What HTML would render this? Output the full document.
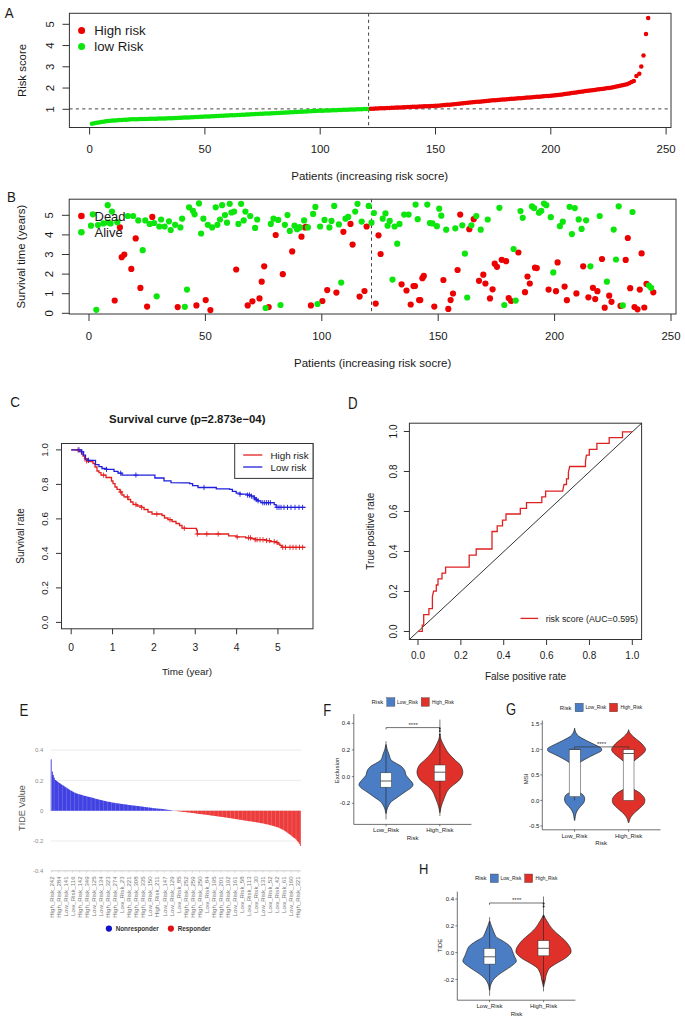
<!DOCTYPE html>
<html><head><meta charset="utf-8"><style>
html,body{margin:0;padding:0;background:#fff;}
svg{display:block;font-family:"Liberation Sans", sans-serif;}
</style></head><body>
<svg width="685" height="1019" viewBox="0 0 685 1019">
<rect width="685" height="1019" fill="#fff"/>
<text transform="translate(4.80,17.79) scale(1,1.12)" font-size="13.3" fill="#1a1a1a">A</text>
<rect x="69.4" y="13.3" width="601.6" height="114.2" fill="none" stroke="#333333" stroke-width="1"/>
<line x1="62.50" y1="109.30" x2="69.40" y2="109.30" stroke="#333333" stroke-width="1" />
<text transform="translate(53.60,109.30) rotate(-90)" font-size="11.4" text-anchor="middle" font-weight="normal" fill="#1a1a1a" >1</text>
<line x1="62.50" y1="88.05" x2="69.40" y2="88.05" stroke="#333333" stroke-width="1" />
<text transform="translate(53.60,88.05) rotate(-90)" font-size="11.4" text-anchor="middle" font-weight="normal" fill="#1a1a1a" >2</text>
<line x1="62.50" y1="66.80" x2="69.40" y2="66.80" stroke="#333333" stroke-width="1" />
<text transform="translate(53.60,66.80) rotate(-90)" font-size="11.4" text-anchor="middle" font-weight="normal" fill="#1a1a1a" >3</text>
<line x1="62.50" y1="45.55" x2="69.40" y2="45.55" stroke="#333333" stroke-width="1" />
<text transform="translate(53.60,45.55) rotate(-90)" font-size="11.4" text-anchor="middle" font-weight="normal" fill="#1a1a1a" >4</text>
<line x1="62.50" y1="24.30" x2="69.40" y2="24.30" stroke="#333333" stroke-width="1" />
<text transform="translate(53.60,24.30) rotate(-90)" font-size="11.4" text-anchor="middle" font-weight="normal" fill="#1a1a1a" >5</text>
<line x1="89.60" y1="127.50" x2="89.60" y2="134.50" stroke="#333333" stroke-width="1" />
<text x="89.60" y="153.10" font-size="11.4" text-anchor="middle" font-weight="normal" fill="#1a1a1a" >0</text>
<line x1="204.90" y1="127.50" x2="204.90" y2="134.50" stroke="#333333" stroke-width="1" />
<text x="204.90" y="153.10" font-size="11.4" text-anchor="middle" font-weight="normal" fill="#1a1a1a" >50</text>
<line x1="320.20" y1="127.50" x2="320.20" y2="134.50" stroke="#333333" stroke-width="1" />
<text x="320.20" y="153.10" font-size="11.4" text-anchor="middle" font-weight="normal" fill="#1a1a1a" >100</text>
<line x1="435.50" y1="127.50" x2="435.50" y2="134.50" stroke="#333333" stroke-width="1" />
<text x="435.50" y="153.10" font-size="11.4" text-anchor="middle" font-weight="normal" fill="#1a1a1a" >150</text>
<line x1="550.80" y1="127.50" x2="550.80" y2="134.50" stroke="#333333" stroke-width="1" />
<text x="550.80" y="153.10" font-size="11.4" text-anchor="middle" font-weight="normal" fill="#1a1a1a" >200</text>
<line x1="666.10" y1="127.50" x2="666.10" y2="134.50" stroke="#333333" stroke-width="1" />
<text x="666.10" y="153.10" font-size="11.4" text-anchor="middle" font-weight="normal" fill="#1a1a1a" >250</text>
<text x="369.70" y="179.73" font-size="11.47" text-anchor="middle" font-weight="normal" fill="#1a1a1a" >Patients (increasing risk socre)</text>
<text transform="translate(25.70,70.50) rotate(-90)" font-size="11.4" text-anchor="middle" font-weight="normal" fill="#1a1a1a" >Risk score</text>
<line x1="69.40" y1="108.90" x2="671.00" y2="108.90" stroke="#444" stroke-width="1" stroke-dasharray="3.2,3.2"/>
<line x1="368.60" y1="13.30" x2="368.60" y2="127.50" stroke="#444" stroke-width="1" stroke-dasharray="3.2,3.2"/>
<circle cx="91.91" cy="123.64" r="2.25" fill="#0ce60c"/><circle cx="94.21" cy="123.23" r="2.25" fill="#0ce60c"/><circle cx="96.52" cy="122.82" r="2.25" fill="#0ce60c"/><circle cx="98.82" cy="122.41" r="2.25" fill="#0ce60c"/><circle cx="101.13" cy="122.02" r="2.25" fill="#0ce60c"/><circle cx="103.44" cy="121.67" r="2.25" fill="#0ce60c"/><circle cx="105.74" cy="121.31" r="2.25" fill="#0ce60c"/><circle cx="108.05" cy="120.95" r="2.25" fill="#0ce60c"/><circle cx="110.35" cy="120.71" r="2.25" fill="#0ce60c"/><circle cx="112.66" cy="120.56" r="2.25" fill="#0ce60c"/><circle cx="114.97" cy="120.40" r="2.25" fill="#0ce60c"/><circle cx="117.27" cy="120.25" r="2.25" fill="#0ce60c"/><circle cx="119.58" cy="120.09" r="2.25" fill="#0ce60c"/><circle cx="121.88" cy="119.94" r="2.25" fill="#0ce60c"/><circle cx="124.19" cy="119.79" r="2.25" fill="#0ce60c"/><circle cx="126.50" cy="119.63" r="2.25" fill="#0ce60c"/><circle cx="128.80" cy="119.48" r="2.25" fill="#0ce60c"/><circle cx="131.11" cy="119.37" r="2.25" fill="#0ce60c"/><circle cx="133.41" cy="119.31" r="2.25" fill="#0ce60c"/><circle cx="135.72" cy="119.24" r="2.25" fill="#0ce60c"/><circle cx="138.03" cy="119.18" r="2.25" fill="#0ce60c"/><circle cx="140.33" cy="119.12" r="2.25" fill="#0ce60c"/><circle cx="142.64" cy="119.05" r="2.25" fill="#0ce60c"/><circle cx="144.94" cy="118.99" r="2.25" fill="#0ce60c"/><circle cx="147.25" cy="118.93" r="2.25" fill="#0ce60c"/><circle cx="149.56" cy="118.86" r="2.25" fill="#0ce60c"/><circle cx="151.86" cy="118.80" r="2.25" fill="#0ce60c"/><circle cx="154.17" cy="118.74" r="2.25" fill="#0ce60c"/><circle cx="156.47" cy="118.67" r="2.25" fill="#0ce60c"/><circle cx="158.78" cy="118.61" r="2.25" fill="#0ce60c"/><circle cx="161.09" cy="118.55" r="2.25" fill="#0ce60c"/><circle cx="163.39" cy="118.48" r="2.25" fill="#0ce60c"/><circle cx="165.70" cy="118.42" r="2.25" fill="#0ce60c"/><circle cx="168.00" cy="118.35" r="2.25" fill="#0ce60c"/><circle cx="170.31" cy="118.28" r="2.25" fill="#0ce60c"/><circle cx="172.62" cy="118.17" r="2.25" fill="#0ce60c"/><circle cx="174.92" cy="118.06" r="2.25" fill="#0ce60c"/><circle cx="177.23" cy="117.95" r="2.25" fill="#0ce60c"/><circle cx="179.53" cy="117.84" r="2.25" fill="#0ce60c"/><circle cx="181.84" cy="117.72" r="2.25" fill="#0ce60c"/><circle cx="184.15" cy="117.61" r="2.25" fill="#0ce60c"/><circle cx="186.45" cy="117.50" r="2.25" fill="#0ce60c"/><circle cx="188.76" cy="117.39" r="2.25" fill="#0ce60c"/><circle cx="191.06" cy="117.28" r="2.25" fill="#0ce60c"/><circle cx="193.37" cy="117.16" r="2.25" fill="#0ce60c"/><circle cx="195.68" cy="117.05" r="2.25" fill="#0ce60c"/><circle cx="197.98" cy="116.94" r="2.25" fill="#0ce60c"/><circle cx="200.29" cy="116.83" r="2.25" fill="#0ce60c"/><circle cx="202.59" cy="116.71" r="2.25" fill="#0ce60c"/><circle cx="204.90" cy="116.60" r="2.25" fill="#0ce60c"/><circle cx="207.21" cy="116.49" r="2.25" fill="#0ce60c"/><circle cx="209.51" cy="116.38" r="2.25" fill="#0ce60c"/><circle cx="211.82" cy="116.27" r="2.25" fill="#0ce60c"/><circle cx="214.12" cy="116.15" r="2.25" fill="#0ce60c"/><circle cx="216.43" cy="116.04" r="2.25" fill="#0ce60c"/><circle cx="218.74" cy="115.93" r="2.25" fill="#0ce60c"/><circle cx="221.04" cy="115.82" r="2.25" fill="#0ce60c"/><circle cx="223.35" cy="115.70" r="2.25" fill="#0ce60c"/><circle cx="225.65" cy="115.59" r="2.25" fill="#0ce60c"/><circle cx="227.96" cy="115.48" r="2.25" fill="#0ce60c"/><circle cx="230.27" cy="115.37" r="2.25" fill="#0ce60c"/><circle cx="232.57" cy="115.26" r="2.25" fill="#0ce60c"/><circle cx="234.88" cy="115.14" r="2.25" fill="#0ce60c"/><circle cx="237.18" cy="115.03" r="2.25" fill="#0ce60c"/><circle cx="239.49" cy="114.92" r="2.25" fill="#0ce60c"/><circle cx="241.80" cy="114.81" r="2.25" fill="#0ce60c"/><circle cx="244.10" cy="114.69" r="2.25" fill="#0ce60c"/><circle cx="246.41" cy="114.57" r="2.25" fill="#0ce60c"/><circle cx="248.71" cy="114.45" r="2.25" fill="#0ce60c"/><circle cx="251.02" cy="114.33" r="2.25" fill="#0ce60c"/><circle cx="253.33" cy="114.22" r="2.25" fill="#0ce60c"/><circle cx="255.63" cy="114.10" r="2.25" fill="#0ce60c"/><circle cx="257.94" cy="113.98" r="2.25" fill="#0ce60c"/><circle cx="260.24" cy="113.86" r="2.25" fill="#0ce60c"/><circle cx="262.55" cy="113.74" r="2.25" fill="#0ce60c"/><circle cx="264.86" cy="113.62" r="2.25" fill="#0ce60c"/><circle cx="267.16" cy="113.50" r="2.25" fill="#0ce60c"/><circle cx="269.47" cy="113.38" r="2.25" fill="#0ce60c"/><circle cx="271.77" cy="113.26" r="2.25" fill="#0ce60c"/><circle cx="274.08" cy="113.14" r="2.25" fill="#0ce60c"/><circle cx="276.39" cy="113.02" r="2.25" fill="#0ce60c"/><circle cx="278.69" cy="112.90" r="2.25" fill="#0ce60c"/><circle cx="281.00" cy="112.78" r="2.25" fill="#0ce60c"/><circle cx="283.30" cy="112.66" r="2.25" fill="#0ce60c"/><circle cx="285.61" cy="112.54" r="2.25" fill="#0ce60c"/><circle cx="287.92" cy="112.42" r="2.25" fill="#0ce60c"/><circle cx="290.22" cy="112.30" r="2.25" fill="#0ce60c"/><circle cx="292.53" cy="112.18" r="2.25" fill="#0ce60c"/><circle cx="294.83" cy="112.06" r="2.25" fill="#0ce60c"/><circle cx="297.14" cy="111.94" r="2.25" fill="#0ce60c"/><circle cx="299.45" cy="111.82" r="2.25" fill="#0ce60c"/><circle cx="301.75" cy="111.70" r="2.25" fill="#0ce60c"/><circle cx="304.06" cy="111.58" r="2.25" fill="#0ce60c"/><circle cx="306.36" cy="111.46" r="2.25" fill="#0ce60c"/><circle cx="308.67" cy="111.34" r="2.25" fill="#0ce60c"/><circle cx="310.98" cy="111.22" r="2.25" fill="#0ce60c"/><circle cx="313.28" cy="111.10" r="2.25" fill="#0ce60c"/><circle cx="315.59" cy="110.98" r="2.25" fill="#0ce60c"/><circle cx="317.89" cy="110.86" r="2.25" fill="#0ce60c"/><circle cx="320.20" cy="110.75" r="2.25" fill="#0ce60c"/><circle cx="322.51" cy="110.67" r="2.25" fill="#0ce60c"/><circle cx="324.81" cy="110.58" r="2.25" fill="#0ce60c"/><circle cx="327.12" cy="110.49" r="2.25" fill="#0ce60c"/><circle cx="329.42" cy="110.40" r="2.25" fill="#0ce60c"/><circle cx="331.73" cy="110.32" r="2.25" fill="#0ce60c"/><circle cx="334.04" cy="110.23" r="2.25" fill="#0ce60c"/><circle cx="336.34" cy="110.14" r="2.25" fill="#0ce60c"/><circle cx="338.65" cy="110.05" r="2.25" fill="#0ce60c"/><circle cx="340.95" cy="109.96" r="2.25" fill="#0ce60c"/><circle cx="343.26" cy="109.87" r="2.25" fill="#0ce60c"/><circle cx="345.57" cy="109.79" r="2.25" fill="#0ce60c"/><circle cx="347.87" cy="109.70" r="2.25" fill="#0ce60c"/><circle cx="350.18" cy="109.61" r="2.25" fill="#0ce60c"/><circle cx="352.48" cy="109.52" r="2.25" fill="#0ce60c"/><circle cx="354.79" cy="109.43" r="2.25" fill="#0ce60c"/><circle cx="357.10" cy="109.34" r="2.25" fill="#0ce60c"/><circle cx="359.40" cy="109.25" r="2.25" fill="#0ce60c"/><circle cx="361.71" cy="109.17" r="2.25" fill="#0ce60c"/><circle cx="364.01" cy="109.08" r="2.25" fill="#0ce60c"/><circle cx="366.32" cy="108.99" r="2.25" fill="#0ce60c"/><circle cx="368.63" cy="108.90" r="2.25" fill="#0ce60c"/><circle cx="370.93" cy="108.79" r="2.25" fill="#ec0000"/><circle cx="373.24" cy="108.69" r="2.25" fill="#ec0000"/><circle cx="375.54" cy="108.58" r="2.25" fill="#ec0000"/><circle cx="377.85" cy="108.47" r="2.25" fill="#ec0000"/><circle cx="380.16" cy="108.37" r="2.25" fill="#ec0000"/><circle cx="382.46" cy="108.26" r="2.25" fill="#ec0000"/><circle cx="384.77" cy="108.15" r="2.25" fill="#ec0000"/><circle cx="387.07" cy="108.05" r="2.25" fill="#ec0000"/><circle cx="389.38" cy="107.94" r="2.25" fill="#ec0000"/><circle cx="391.69" cy="107.83" r="2.25" fill="#ec0000"/><circle cx="393.99" cy="107.73" r="2.25" fill="#ec0000"/><circle cx="396.30" cy="107.62" r="2.25" fill="#ec0000"/><circle cx="398.60" cy="107.51" r="2.25" fill="#ec0000"/><circle cx="400.91" cy="107.41" r="2.25" fill="#ec0000"/><circle cx="403.22" cy="107.30" r="2.25" fill="#ec0000"/><circle cx="405.52" cy="107.19" r="2.25" fill="#ec0000"/><circle cx="407.83" cy="107.09" r="2.25" fill="#ec0000"/><circle cx="410.13" cy="106.98" r="2.25" fill="#ec0000"/><circle cx="412.44" cy="106.87" r="2.25" fill="#ec0000"/><circle cx="414.75" cy="106.77" r="2.25" fill="#ec0000"/><circle cx="417.05" cy="106.66" r="2.25" fill="#ec0000"/><circle cx="419.36" cy="106.55" r="2.25" fill="#ec0000"/><circle cx="421.66" cy="106.45" r="2.25" fill="#ec0000"/><circle cx="423.97" cy="106.34" r="2.25" fill="#ec0000"/><circle cx="426.28" cy="106.23" r="2.25" fill="#ec0000"/><circle cx="428.58" cy="106.13" r="2.25" fill="#ec0000"/><circle cx="430.89" cy="106.02" r="2.25" fill="#ec0000"/><circle cx="433.19" cy="105.91" r="2.25" fill="#ec0000"/><circle cx="435.50" cy="105.81" r="2.25" fill="#ec0000"/><circle cx="437.81" cy="105.70" r="2.25" fill="#ec0000"/><circle cx="440.11" cy="105.59" r="2.25" fill="#ec0000"/><circle cx="442.42" cy="105.35" r="2.25" fill="#ec0000"/><circle cx="444.72" cy="105.11" r="2.25" fill="#ec0000"/><circle cx="447.03" cy="104.87" r="2.25" fill="#ec0000"/><circle cx="449.34" cy="104.63" r="2.25" fill="#ec0000"/><circle cx="451.64" cy="104.40" r="2.25" fill="#ec0000"/><circle cx="453.95" cy="104.16" r="2.25" fill="#ec0000"/><circle cx="456.25" cy="103.92" r="2.25" fill="#ec0000"/><circle cx="458.56" cy="103.68" r="2.25" fill="#ec0000"/><circle cx="460.87" cy="103.44" r="2.25" fill="#ec0000"/><circle cx="463.17" cy="103.20" r="2.25" fill="#ec0000"/><circle cx="465.48" cy="102.96" r="2.25" fill="#ec0000"/><circle cx="467.78" cy="102.73" r="2.25" fill="#ec0000"/><circle cx="470.09" cy="102.50" r="2.25" fill="#ec0000"/><circle cx="472.40" cy="102.28" r="2.25" fill="#ec0000"/><circle cx="474.70" cy="102.07" r="2.25" fill="#ec0000"/><circle cx="477.01" cy="101.85" r="2.25" fill="#ec0000"/><circle cx="479.31" cy="101.64" r="2.25" fill="#ec0000"/><circle cx="481.62" cy="101.43" r="2.25" fill="#ec0000"/><circle cx="483.93" cy="101.21" r="2.25" fill="#ec0000"/><circle cx="486.23" cy="101.00" r="2.25" fill="#ec0000"/><circle cx="488.54" cy="100.78" r="2.25" fill="#ec0000"/><circle cx="490.84" cy="100.57" r="2.25" fill="#ec0000"/><circle cx="493.15" cy="100.35" r="2.25" fill="#ec0000"/><circle cx="495.46" cy="100.14" r="2.25" fill="#ec0000"/><circle cx="497.76" cy="99.92" r="2.25" fill="#ec0000"/><circle cx="500.07" cy="99.74" r="2.25" fill="#ec0000"/><circle cx="502.37" cy="99.56" r="2.25" fill="#ec0000"/><circle cx="504.68" cy="99.39" r="2.25" fill="#ec0000"/><circle cx="506.99" cy="99.21" r="2.25" fill="#ec0000"/><circle cx="509.29" cy="99.03" r="2.25" fill="#ec0000"/><circle cx="511.60" cy="98.86" r="2.25" fill="#ec0000"/><circle cx="513.90" cy="98.68" r="2.25" fill="#ec0000"/><circle cx="516.21" cy="98.50" r="2.25" fill="#ec0000"/><circle cx="518.52" cy="98.33" r="2.25" fill="#ec0000"/><circle cx="520.82" cy="98.15" r="2.25" fill="#ec0000"/><circle cx="523.13" cy="97.97" r="2.25" fill="#ec0000"/><circle cx="525.43" cy="97.80" r="2.25" fill="#ec0000"/><circle cx="527.74" cy="97.62" r="2.25" fill="#ec0000"/><circle cx="530.05" cy="97.43" r="2.25" fill="#ec0000"/><circle cx="532.35" cy="97.24" r="2.25" fill="#ec0000"/><circle cx="534.66" cy="97.05" r="2.25" fill="#ec0000"/><circle cx="536.96" cy="96.86" r="2.25" fill="#ec0000"/><circle cx="539.27" cy="96.67" r="2.25" fill="#ec0000"/><circle cx="541.58" cy="96.48" r="2.25" fill="#ec0000"/><circle cx="543.88" cy="96.29" r="2.25" fill="#ec0000"/><circle cx="546.19" cy="96.09" r="2.25" fill="#ec0000"/><circle cx="548.49" cy="95.90" r="2.25" fill="#ec0000"/><circle cx="550.80" cy="95.71" r="2.25" fill="#ec0000"/><circle cx="553.11" cy="95.52" r="2.25" fill="#ec0000"/><circle cx="555.41" cy="95.33" r="2.25" fill="#ec0000"/><circle cx="557.72" cy="95.10" r="2.25" fill="#ec0000"/><circle cx="560.02" cy="94.76" r="2.25" fill="#ec0000"/><circle cx="562.33" cy="94.43" r="2.25" fill="#ec0000"/><circle cx="564.64" cy="94.09" r="2.25" fill="#ec0000"/><circle cx="566.94" cy="93.76" r="2.25" fill="#ec0000"/><circle cx="569.25" cy="93.43" r="2.25" fill="#ec0000"/><circle cx="571.55" cy="93.09" r="2.25" fill="#ec0000"/><circle cx="573.86" cy="92.76" r="2.25" fill="#ec0000"/><circle cx="576.17" cy="92.42" r="2.25" fill="#ec0000"/><circle cx="578.47" cy="92.09" r="2.25" fill="#ec0000"/><circle cx="580.78" cy="91.76" r="2.25" fill="#ec0000"/><circle cx="583.08" cy="91.42" r="2.25" fill="#ec0000"/><circle cx="585.39" cy="91.09" r="2.25" fill="#ec0000"/><circle cx="587.70" cy="90.78" r="2.25" fill="#ec0000"/><circle cx="590.00" cy="90.48" r="2.25" fill="#ec0000"/><circle cx="592.31" cy="90.18" r="2.25" fill="#ec0000"/><circle cx="594.61" cy="89.88" r="2.25" fill="#ec0000"/><circle cx="596.92" cy="89.58" r="2.25" fill="#ec0000"/><circle cx="599.23" cy="89.27" r="2.25" fill="#ec0000"/><circle cx="601.53" cy="88.97" r="2.25" fill="#ec0000"/><circle cx="603.84" cy="88.67" r="2.25" fill="#ec0000"/><circle cx="606.14" cy="88.37" r="2.25" fill="#ec0000"/><circle cx="608.45" cy="88.07" r="2.25" fill="#ec0000"/><circle cx="610.76" cy="87.63" r="2.25" fill="#ec0000"/><circle cx="613.06" cy="87.14" r="2.25" fill="#ec0000"/><circle cx="615.37" cy="86.66" r="2.25" fill="#ec0000"/><circle cx="617.67" cy="86.17" r="2.25" fill="#ec0000"/><circle cx="619.98" cy="85.68" r="2.25" fill="#ec0000"/><circle cx="622.29" cy="85.20" r="2.25" fill="#ec0000"/><circle cx="624.59" cy="84.71" r="2.25" fill="#ec0000"/><circle cx="626.90" cy="84.22" r="2.25" fill="#ec0000"/><circle cx="629.20" cy="83.16" r="2.25" fill="#ec0000"/><circle cx="631.51" cy="82.08" r="2.25" fill="#ec0000"/><circle cx="633.82" cy="81.00" r="2.25" fill="#ec0000"/><circle cx="636.40" cy="76.00" r="2.25" fill="#ec0000"/><circle cx="639.30" cy="73.70" r="2.25" fill="#ec0000"/><circle cx="641.30" cy="66.50" r="2.25" fill="#ec0000"/><circle cx="643.50" cy="55.60" r="2.25" fill="#ec0000"/><circle cx="646.00" cy="34.00" r="2.25" fill="#ec0000"/><circle cx="648.20" cy="17.90" r="2.25" fill="#ec0000"/>
<circle cx="81.6" cy="30.4" r="3.5" fill="#ec0000"/>
<circle cx="81.6" cy="46.6" r="3.5" fill="#0ce60c"/>
<text x="94.30" y="35.05" font-size="13.2" text-anchor="start" font-weight="normal" fill="#1a1a1a" >High risk</text>
<text x="94.30" y="51.35" font-size="13.2" text-anchor="start" font-weight="normal" fill="#1a1a1a" >low Risk</text>
<text transform="translate(7.10,202.29) scale(1,1.12)" font-size="13.3" fill="#1a1a1a">B</text>
<rect x="69.2" y="199.2" width="606.8" height="114.80000000000001" fill="none" stroke="#333333" stroke-width="1"/>
<line x1="61.90" y1="313.30" x2="69.20" y2="313.30" stroke="#333333" stroke-width="1" />
<text transform="translate(53.10,313.30) rotate(-90)" font-size="11.4" text-anchor="middle" font-weight="normal" fill="#1a1a1a" >0</text>
<line x1="61.90" y1="293.70" x2="69.20" y2="293.70" stroke="#333333" stroke-width="1" />
<text transform="translate(53.10,293.70) rotate(-90)" font-size="11.4" text-anchor="middle" font-weight="normal" fill="#1a1a1a" >1</text>
<line x1="61.90" y1="274.10" x2="69.20" y2="274.10" stroke="#333333" stroke-width="1" />
<text transform="translate(53.10,274.10) rotate(-90)" font-size="11.4" text-anchor="middle" font-weight="normal" fill="#1a1a1a" >2</text>
<line x1="61.90" y1="254.50" x2="69.20" y2="254.50" stroke="#333333" stroke-width="1" />
<text transform="translate(53.10,254.50) rotate(-90)" font-size="11.4" text-anchor="middle" font-weight="normal" fill="#1a1a1a" >3</text>
<line x1="61.90" y1="234.90" x2="69.20" y2="234.90" stroke="#333333" stroke-width="1" />
<text transform="translate(53.10,234.90) rotate(-90)" font-size="11.4" text-anchor="middle" font-weight="normal" fill="#1a1a1a" >4</text>
<line x1="61.90" y1="215.30" x2="69.20" y2="215.30" stroke="#333333" stroke-width="1" />
<text transform="translate(53.10,215.30) rotate(-90)" font-size="11.4" text-anchor="middle" font-weight="normal" fill="#1a1a1a" >5</text>
<line x1="89.00" y1="314.00" x2="89.00" y2="321.00" stroke="#333333" stroke-width="1" />
<text x="89.00" y="340.10" font-size="11.4" text-anchor="middle" font-weight="normal" fill="#1a1a1a" >0</text>
<line x1="205.40" y1="314.00" x2="205.40" y2="321.00" stroke="#333333" stroke-width="1" />
<text x="205.40" y="340.10" font-size="11.4" text-anchor="middle" font-weight="normal" fill="#1a1a1a" >50</text>
<line x1="321.80" y1="314.00" x2="321.80" y2="321.00" stroke="#333333" stroke-width="1" />
<text x="321.80" y="340.10" font-size="11.4" text-anchor="middle" font-weight="normal" fill="#1a1a1a" >100</text>
<line x1="438.20" y1="314.00" x2="438.20" y2="321.00" stroke="#333333" stroke-width="1" />
<text x="438.20" y="340.10" font-size="11.4" text-anchor="middle" font-weight="normal" fill="#1a1a1a" >150</text>
<line x1="554.60" y1="314.00" x2="554.60" y2="321.00" stroke="#333333" stroke-width="1" />
<text x="554.60" y="340.10" font-size="11.4" text-anchor="middle" font-weight="normal" fill="#1a1a1a" >200</text>
<line x1="671.00" y1="314.00" x2="671.00" y2="321.00" stroke="#333333" stroke-width="1" />
<text x="671.00" y="340.10" font-size="11.4" text-anchor="middle" font-weight="normal" fill="#1a1a1a" >250</text>
<text x="372.65" y="366.84" font-size="11.5" text-anchor="middle" font-weight="normal" fill="#1a1a1a" >Patients (increasing risk socre)</text>
<text transform="translate(25.40,256.60) rotate(-90)" font-size="11.4" text-anchor="middle" font-weight="normal" fill="#1a1a1a" >Survival time (years)</text>
<line x1="371.50" y1="199.20" x2="371.50" y2="314.00" stroke="#444" stroke-width="1" stroke-dasharray="3.2,3.2"/>
<circle cx="152.3" cy="216.9" r="3.1" fill="#ec0000"/><circle cx="119.9" cy="227.4" r="3.1" fill="#ec0000"/><circle cx="135.7" cy="238.4" r="3.1" fill="#ec0000"/><circle cx="121.7" cy="257.2" r="3.1" fill="#ec0000"/><circle cx="124.3" cy="254.6" r="3.1" fill="#ec0000"/><circle cx="131.3" cy="268.9" r="3.1" fill="#ec0000"/><circle cx="140.4" cy="287.9" r="3.1" fill="#ec0000"/><circle cx="114.7" cy="300.5" r="3.1" fill="#ec0000"/><circle cx="147.1" cy="306.6" r="3.1" fill="#ec0000"/><circle cx="177.7" cy="307.1" r="3.1" fill="#ec0000"/><circle cx="275.7" cy="235" r="3.1" fill="#ec0000"/><circle cx="301.5" cy="236.7" r="3.1" fill="#ec0000"/><circle cx="305" cy="227.4" r="3.1" fill="#ec0000"/><circle cx="292.2" cy="251.4" r="3.1" fill="#ec0000"/><circle cx="236.2" cy="269.5" r="3.1" fill="#ec0000"/><circle cx="264.2" cy="266.3" r="3.1" fill="#ec0000"/><circle cx="282.8" cy="274.2" r="3.1" fill="#ec0000"/><circle cx="261.7" cy="281.7" r="3.1" fill="#ec0000"/><circle cx="205.7" cy="300.1" r="3.1" fill="#ec0000"/><circle cx="196.4" cy="305.4" r="3.1" fill="#ec0000"/><circle cx="210.4" cy="310.1" r="3.1" fill="#ec0000"/><circle cx="247.7" cy="305.4" r="3.1" fill="#ec0000"/><circle cx="252.4" cy="301.3" r="3.1" fill="#ec0000"/><circle cx="259.5" cy="298.4" r="3.1" fill="#ec0000"/><circle cx="268.7" cy="307.1" r="3.1" fill="#ec0000"/><circle cx="306.1" cy="226.9" r="3.1" fill="#ec0000"/><circle cx="343.4" cy="231.8" r="3.1" fill="#ec0000"/><circle cx="350.5" cy="223.9" r="3.1" fill="#ec0000"/><circle cx="366.6" cy="226.5" r="3.1" fill="#ec0000"/><circle cx="352.6" cy="244.6" r="3.1" fill="#ec0000"/><circle cx="378.5" cy="235.3" r="3.1" fill="#ec0000"/><circle cx="380.6" cy="254" r="3.1" fill="#ec0000"/><circle cx="327.2" cy="290.1" r="3.1" fill="#ec0000"/><circle cx="336.4" cy="292.6" r="3.1" fill="#ec0000"/><circle cx="322.4" cy="301" r="3.1" fill="#ec0000"/><circle cx="310.9" cy="305.4" r="3.1" fill="#ec0000"/><circle cx="364.5" cy="291" r="3.1" fill="#ec0000"/><circle cx="359.6" cy="296.6" r="3.1" fill="#ec0000"/><circle cx="375.7" cy="303.6" r="3.1" fill="#ec0000"/><circle cx="401.6" cy="284.3" r="3.1" fill="#ec0000"/><circle cx="406.5" cy="290.5" r="3.1" fill="#ec0000"/><circle cx="413.5" cy="286.1" r="3.1" fill="#ec0000"/><circle cx="410.7" cy="304.5" r="3.1" fill="#ec0000"/><circle cx="419.1" cy="300.1" r="3.1" fill="#ec0000"/><circle cx="415" cy="286" r="3.1" fill="#ec0000"/><circle cx="460.2" cy="214.6" r="3.1" fill="#ec0000"/><circle cx="473.7" cy="219.2" r="3.1" fill="#ec0000"/><circle cx="469.3" cy="229.2" r="3.1" fill="#ec0000"/><circle cx="518.4" cy="252.5" r="3.1" fill="#ec0000"/><circle cx="501.7" cy="259.8" r="3.1" fill="#ec0000"/><circle cx="506.1" cy="261.2" r="3.1" fill="#ec0000"/><circle cx="494.7" cy="263.7" r="3.1" fill="#ec0000"/><circle cx="497" cy="266.8" r="3.1" fill="#ec0000"/><circle cx="457.6" cy="270" r="3.1" fill="#ec0000"/><circle cx="423.8" cy="275.9" r="3.1" fill="#ec0000"/><circle cx="422.4" cy="278.2" r="3.1" fill="#ec0000"/><circle cx="443.4" cy="280" r="3.1" fill="#ec0000"/><circle cx="483.3" cy="274.7" r="3.1" fill="#ec0000"/><circle cx="479" cy="280.8" r="3.1" fill="#ec0000"/><circle cx="485.4" cy="283.5" r="3.1" fill="#ec0000"/><circle cx="492.6" cy="289.3" r="3.1" fill="#ec0000"/><circle cx="527.5" cy="276.5" r="3.1" fill="#ec0000"/><circle cx="529.8" cy="283.5" r="3.1" fill="#ec0000"/><circle cx="525" cy="292.2" r="3.1" fill="#ec0000"/><circle cx="453" cy="293.5" r="3.1" fill="#ec0000"/><circle cx="450.6" cy="300.1" r="3.1" fill="#ec0000"/><circle cx="420.3" cy="300.1" r="3.1" fill="#ec0000"/><circle cx="434.3" cy="306.6" r="3.1" fill="#ec0000"/><circle cx="448.3" cy="308.9" r="3.1" fill="#ec0000"/><circle cx="490" cy="298.4" r="3.1" fill="#ec0000"/><circle cx="508.7" cy="298" r="3.1" fill="#ec0000"/><circle cx="511" cy="301" r="3.1" fill="#ec0000"/><circle cx="535" cy="267.7" r="3.1" fill="#ec0000"/><circle cx="627.8" cy="238" r="3.1" fill="#ec0000"/><circle cx="641.6" cy="253.4" r="3.1" fill="#ec0000"/><circle cx="536.8" cy="268.1" r="3.1" fill="#ec0000"/><circle cx="557.6" cy="262.4" r="3.1" fill="#ec0000"/><circle cx="583.2" cy="266.3" r="3.1" fill="#ec0000"/><circle cx="602" cy="259" r="3.1" fill="#ec0000"/><circle cx="625.7" cy="259.9" r="3.1" fill="#ec0000"/><circle cx="548.6" cy="289.6" r="3.1" fill="#ec0000"/><circle cx="556" cy="291.2" r="3.1" fill="#ec0000"/><circle cx="564.6" cy="286.6" r="3.1" fill="#ec0000"/><circle cx="576.4" cy="293.4" r="3.1" fill="#ec0000"/><circle cx="566.9" cy="300.2" r="3.1" fill="#ec0000"/><circle cx="592.9" cy="287.8" r="3.1" fill="#ec0000"/><circle cx="597.4" cy="291.2" r="3.1" fill="#ec0000"/><circle cx="588.4" cy="297.3" r="3.1" fill="#ec0000"/><circle cx="595.2" cy="299.1" r="3.1" fill="#ec0000"/><circle cx="609.2" cy="295.7" r="3.1" fill="#ec0000"/><circle cx="611.5" cy="301.8" r="3.1" fill="#ec0000"/><circle cx="604.7" cy="307.7" r="3.1" fill="#ec0000"/><circle cx="620.5" cy="305.9" r="3.1" fill="#ec0000"/><circle cx="630.2" cy="288.2" r="3.1" fill="#ec0000"/><circle cx="639.8" cy="289.6" r="3.1" fill="#ec0000"/><circle cx="646.5" cy="283.9" r="3.1" fill="#ec0000"/><circle cx="653.3" cy="292.3" r="3.1" fill="#ec0000"/><circle cx="634.5" cy="307" r="3.1" fill="#ec0000"/><circle cx="637.5" cy="309.3" r="3.1" fill="#ec0000"/><circle cx="644.3" cy="307.5" r="3.1" fill="#ec0000"/><circle cx="107.7" cy="205.2" r="3.1" fill="#0ce60c"/><circle cx="92.8" cy="214.3" r="3.1" fill="#0ce60c"/><circle cx="112" cy="211.6" r="3.1" fill="#0ce60c"/><circle cx="91" cy="225.7" r="3.1" fill="#0ce60c"/><circle cx="98" cy="225.1" r="3.1" fill="#0ce60c"/><circle cx="103.3" cy="223.4" r="3.1" fill="#0ce60c"/><circle cx="107.7" cy="222.5" r="3.1" fill="#0ce60c"/><circle cx="110.6" cy="223.4" r="3.1" fill="#0ce60c"/><circle cx="117.3" cy="222.2" r="3.1" fill="#0ce60c"/><circle cx="127.8" cy="216" r="3.1" fill="#0ce60c"/><circle cx="133.1" cy="216" r="3.1" fill="#0ce60c"/><circle cx="138.3" cy="220.4" r="3.1" fill="#0ce60c"/><circle cx="145.3" cy="220.4" r="3.1" fill="#0ce60c"/><circle cx="149.7" cy="223.9" r="3.1" fill="#0ce60c"/><circle cx="154.1" cy="223" r="3.1" fill="#0ce60c"/><circle cx="159.3" cy="226.5" r="3.1" fill="#0ce60c"/><circle cx="161.1" cy="219.5" r="3.1" fill="#0ce60c"/><circle cx="164.6" cy="226.5" r="3.1" fill="#0ce60c"/><circle cx="169" cy="221.3" r="3.1" fill="#0ce60c"/><circle cx="170.7" cy="230" r="3.1" fill="#0ce60c"/><circle cx="175.1" cy="224.8" r="3.1" fill="#0ce60c"/><circle cx="180.4" cy="227.4" r="3.1" fill="#0ce60c"/><circle cx="182.1" cy="218.7" r="3.1" fill="#0ce60c"/><circle cx="189.1" cy="207.3" r="3.1" fill="#0ce60c"/><circle cx="142.7" cy="250.2" r="3.1" fill="#0ce60c"/><circle cx="156.7" cy="296.3" r="3.1" fill="#0ce60c"/><circle cx="184.8" cy="306.8" r="3.1" fill="#0ce60c"/><circle cx="187" cy="289.6" r="3.1" fill="#0ce60c"/><circle cx="96.3" cy="309.8" r="3.1" fill="#0ce60c"/><circle cx="192.9" cy="210.8" r="3.1" fill="#0ce60c"/><circle cx="194.6" cy="214.3" r="3.1" fill="#0ce60c"/><circle cx="199" cy="203.4" r="3.1" fill="#0ce60c"/><circle cx="203.4" cy="218.7" r="3.1" fill="#0ce60c"/><circle cx="201.1" cy="233.5" r="3.1" fill="#0ce60c"/><circle cx="207.8" cy="224.8" r="3.1" fill="#0ce60c"/><circle cx="212.2" cy="227.4" r="3.1" fill="#0ce60c"/><circle cx="215.7" cy="207.3" r="3.1" fill="#0ce60c"/><circle cx="217.4" cy="224.8" r="3.1" fill="#0ce60c"/><circle cx="220" cy="219.5" r="3.1" fill="#0ce60c"/><circle cx="222.1" cy="205.2" r="3.1" fill="#0ce60c"/><circle cx="225" cy="215.1" r="3.1" fill="#0ce60c"/><circle cx="227" cy="222.7" r="3.1" fill="#0ce60c"/><circle cx="229.7" cy="203.8" r="3.1" fill="#0ce60c"/><circle cx="231.4" cy="212.5" r="3.1" fill="#0ce60c"/><circle cx="234.1" cy="211.6" r="3.1" fill="#0ce60c"/><circle cx="238.4" cy="223.9" r="3.1" fill="#0ce60c"/><circle cx="241.1" cy="203.8" r="3.1" fill="#0ce60c"/><circle cx="243.7" cy="220.4" r="3.1" fill="#0ce60c"/><circle cx="245.4" cy="211.6" r="3.1" fill="#0ce60c"/><circle cx="250.2" cy="216" r="3.1" fill="#0ce60c"/><circle cx="255.1" cy="227.9" r="3.1" fill="#0ce60c"/><circle cx="257.2" cy="219.5" r="3.1" fill="#0ce60c"/><circle cx="270.8" cy="223.9" r="3.1" fill="#0ce60c"/><circle cx="273.5" cy="218.7" r="3.1" fill="#0ce60c"/><circle cx="278.2" cy="219.9" r="3.1" fill="#0ce60c"/><circle cx="284.9" cy="224.8" r="3.1" fill="#0ce60c"/><circle cx="287.5" cy="215.1" r="3.1" fill="#0ce60c"/><circle cx="289.8" cy="230.9" r="3.1" fill="#0ce60c"/><circle cx="294.5" cy="225.7" r="3.1" fill="#0ce60c"/><circle cx="297.1" cy="229.2" r="3.1" fill="#0ce60c"/><circle cx="298.9" cy="227.4" r="3.1" fill="#0ce60c"/><circle cx="304.1" cy="220.4" r="3.1" fill="#0ce60c"/><circle cx="280.5" cy="305" r="3.1" fill="#0ce60c"/><circle cx="265.6" cy="308" r="3.1" fill="#0ce60c"/><circle cx="300" cy="227.4" r="3.1" fill="#0ce60c"/><circle cx="307.9" cy="227.4" r="3.1" fill="#0ce60c"/><circle cx="313.1" cy="213.9" r="3.1" fill="#0ce60c"/><circle cx="315.4" cy="206.9" r="3.1" fill="#0ce60c"/><circle cx="320.1" cy="226.5" r="3.1" fill="#0ce60c"/><circle cx="324.5" cy="219.9" r="3.1" fill="#0ce60c"/><circle cx="329.4" cy="227.4" r="3.1" fill="#0ce60c"/><circle cx="331.5" cy="220.9" r="3.1" fill="#0ce60c"/><circle cx="334.2" cy="205.9" r="3.1" fill="#0ce60c"/><circle cx="338.9" cy="224.4" r="3.1" fill="#0ce60c"/><circle cx="345.5" cy="218.7" r="3.1" fill="#0ce60c"/><circle cx="348.2" cy="216.9" r="3.1" fill="#0ce60c"/><circle cx="355.2" cy="211.6" r="3.1" fill="#0ce60c"/><circle cx="357.5" cy="203.8" r="3.1" fill="#0ce60c"/><circle cx="361.7" cy="221.6" r="3.1" fill="#0ce60c"/><circle cx="368.7" cy="205.9" r="3.1" fill="#0ce60c"/><circle cx="371.5" cy="222.7" r="3.1" fill="#0ce60c"/><circle cx="373.9" cy="213" r="3.1" fill="#0ce60c"/><circle cx="382.7" cy="218.7" r="3.1" fill="#0ce60c"/><circle cx="385.5" cy="213.4" r="3.1" fill="#0ce60c"/><circle cx="387.6" cy="225.7" r="3.1" fill="#0ce60c"/><circle cx="389.7" cy="220.9" r="3.1" fill="#0ce60c"/><circle cx="394.6" cy="226.5" r="3.1" fill="#0ce60c"/><circle cx="399.5" cy="223.9" r="3.1" fill="#0ce60c"/><circle cx="404.2" cy="214.6" r="3.1" fill="#0ce60c"/><circle cx="408.6" cy="214.6" r="3.1" fill="#0ce60c"/><circle cx="415.6" cy="204.6" r="3.1" fill="#0ce60c"/><circle cx="417.7" cy="219.2" r="3.1" fill="#0ce60c"/><circle cx="397.2" cy="243.7" r="3.1" fill="#0ce60c"/><circle cx="392.5" cy="279.6" r="3.1" fill="#0ce60c"/><circle cx="341.2" cy="282.6" r="3.1" fill="#0ce60c"/><circle cx="317.5" cy="304" r="3.1" fill="#0ce60c"/><circle cx="427.3" cy="204.6" r="3.1" fill="#0ce60c"/><circle cx="439.2" cy="208.7" r="3.1" fill="#0ce60c"/><circle cx="441.3" cy="215.7" r="3.1" fill="#0ce60c"/><circle cx="429.9" cy="223" r="3.1" fill="#0ce60c"/><circle cx="432.5" cy="223.4" r="3.1" fill="#0ce60c"/><circle cx="436.9" cy="226.2" r="3.1" fill="#0ce60c"/><circle cx="446.2" cy="229.7" r="3.1" fill="#0ce60c"/><circle cx="455.3" cy="228.3" r="3.1" fill="#0ce60c"/><circle cx="462.3" cy="225.3" r="3.1" fill="#0ce60c"/><circle cx="471.4" cy="225.3" r="3.1" fill="#0ce60c"/><circle cx="476.3" cy="216" r="3.1" fill="#0ce60c"/><circle cx="480.7" cy="229.7" r="3.1" fill="#0ce60c"/><circle cx="487.7" cy="219.5" r="3.1" fill="#0ce60c"/><circle cx="499.4" cy="207.8" r="3.1" fill="#0ce60c"/><circle cx="520.5" cy="211.1" r="3.1" fill="#0ce60c"/><circle cx="522.7" cy="217.8" r="3.1" fill="#0ce60c"/><circle cx="532" cy="206.4" r="3.1" fill="#0ce60c"/><circle cx="534.1" cy="208.1" r="3.1" fill="#0ce60c"/><circle cx="464.9" cy="253.7" r="3.1" fill="#0ce60c"/><circle cx="513.6" cy="249" r="3.1" fill="#0ce60c"/><circle cx="467.2" cy="297.5" r="3.1" fill="#0ce60c"/><circle cx="515.7" cy="300.6" r="3.1" fill="#0ce60c"/><circle cx="504.3" cy="305" r="3.1" fill="#0ce60c"/><circle cx="539" cy="212.7" r="3.1" fill="#0ce60c"/><circle cx="541.3" cy="210.8" r="3.1" fill="#0ce60c"/><circle cx="544" cy="203.6" r="3.1" fill="#0ce60c"/><circle cx="546.3" cy="205.2" r="3.1" fill="#0ce60c"/><circle cx="550.8" cy="217.2" r="3.1" fill="#0ce60c"/><circle cx="569.6" cy="206.8" r="3.1" fill="#0ce60c"/><circle cx="574.8" cy="208.1" r="3.1" fill="#0ce60c"/><circle cx="562.8" cy="221.7" r="3.1" fill="#0ce60c"/><circle cx="559.9" cy="226.2" r="3.1" fill="#0ce60c"/><circle cx="578.7" cy="219.4" r="3.1" fill="#0ce60c"/><circle cx="586.1" cy="220.3" r="3.1" fill="#0ce60c"/><circle cx="571.9" cy="234.1" r="3.1" fill="#0ce60c"/><circle cx="581.6" cy="228.9" r="3.1" fill="#0ce60c"/><circle cx="599.7" cy="216" r="3.1" fill="#0ce60c"/><circle cx="618.7" cy="206.3" r="3.1" fill="#0ce60c"/><circle cx="632.5" cy="212" r="3.1" fill="#0ce60c"/><circle cx="613.7" cy="229.6" r="3.1" fill="#0ce60c"/><circle cx="553.3" cy="272.4" r="3.1" fill="#0ce60c"/><circle cx="590.4" cy="266.3" r="3.1" fill="#0ce60c"/><circle cx="616" cy="259.5" r="3.1" fill="#0ce60c"/><circle cx="606.9" cy="281.7" r="3.1" fill="#0ce60c"/><circle cx="648.8" cy="285.5" r="3.1" fill="#0ce60c"/><circle cx="651.1" cy="287.8" r="3.1" fill="#0ce60c"/><circle cx="622.8" cy="305.4" r="3.1" fill="#0ce60c"/>
<circle cx="81.4" cy="216" r="3.3" fill="#ec0000"/>
<circle cx="81.4" cy="232.3" r="3.3" fill="#0ce60c"/>
<text x="94.50" y="221.18" font-size="13.0" text-anchor="start" font-weight="normal" fill="#1a1a1a" >Dead</text>
<text x="94.50" y="237.38" font-size="13.0" text-anchor="start" font-weight="normal" fill="#1a1a1a" >Alive</text>
<text transform="translate(10.30,407.16) scale(1,1.12)" font-size="13.5" fill="#1a1a1a">C</text>
<text x="187.30" y="423.30" font-size="11.4" text-anchor="middle" font-weight="bold" fill="#1a1a1a" >Survival curve (p=2.873e&#8722;04)</text>
<rect x="61.5" y="443.5" width="251.5" height="185.29999999999995" fill="none" stroke="#333333" stroke-width="1"/>
<line x1="56.00" y1="622.40" x2="61.50" y2="622.40" stroke="#333333" stroke-width="1" />
<text transform="translate(48.43,622.40) rotate(-90)" font-size="9.8" text-anchor="middle" font-weight="normal" fill="#1a1a1a" >0.0</text>
<line x1="56.00" y1="587.90" x2="61.50" y2="587.90" stroke="#333333" stroke-width="1" />
<text transform="translate(48.43,587.90) rotate(-90)" font-size="9.8" text-anchor="middle" font-weight="normal" fill="#1a1a1a" >0.2</text>
<line x1="56.00" y1="553.40" x2="61.50" y2="553.40" stroke="#333333" stroke-width="1" />
<text transform="translate(48.43,553.40) rotate(-90)" font-size="9.8" text-anchor="middle" font-weight="normal" fill="#1a1a1a" >0.4</text>
<line x1="56.00" y1="518.90" x2="61.50" y2="518.90" stroke="#333333" stroke-width="1" />
<text transform="translate(48.43,518.90) rotate(-90)" font-size="9.8" text-anchor="middle" font-weight="normal" fill="#1a1a1a" >0.6</text>
<line x1="56.00" y1="484.40" x2="61.50" y2="484.40" stroke="#333333" stroke-width="1" />
<text transform="translate(48.43,484.40) rotate(-90)" font-size="9.8" text-anchor="middle" font-weight="normal" fill="#1a1a1a" >0.8</text>
<line x1="56.00" y1="449.90" x2="61.50" y2="449.90" stroke="#333333" stroke-width="1" />
<text transform="translate(48.43,449.90) rotate(-90)" font-size="9.8" text-anchor="middle" font-weight="normal" fill="#1a1a1a" >1.0</text>
<line x1="71.20" y1="628.80" x2="71.20" y2="634.30" stroke="#333333" stroke-width="1" />
<text x="71.20" y="651.31" font-size="10.3" text-anchor="middle" font-weight="normal" fill="#1a1a1a" >0</text>
<line x1="112.55" y1="628.80" x2="112.55" y2="634.30" stroke="#333333" stroke-width="1" />
<text x="112.55" y="651.31" font-size="10.3" text-anchor="middle" font-weight="normal" fill="#1a1a1a" >1</text>
<line x1="153.90" y1="628.80" x2="153.90" y2="634.30" stroke="#333333" stroke-width="1" />
<text x="153.90" y="651.31" font-size="10.3" text-anchor="middle" font-weight="normal" fill="#1a1a1a" >2</text>
<line x1="195.25" y1="628.80" x2="195.25" y2="634.30" stroke="#333333" stroke-width="1" />
<text x="195.25" y="651.31" font-size="10.3" text-anchor="middle" font-weight="normal" fill="#1a1a1a" >3</text>
<line x1="236.60" y1="628.80" x2="236.60" y2="634.30" stroke="#333333" stroke-width="1" />
<text x="236.60" y="651.31" font-size="10.3" text-anchor="middle" font-weight="normal" fill="#1a1a1a" >4</text>
<line x1="277.95" y1="628.80" x2="277.95" y2="634.30" stroke="#333333" stroke-width="1" />
<text x="277.95" y="651.31" font-size="10.3" text-anchor="middle" font-weight="normal" fill="#1a1a1a" >5</text>
<text x="187.00" y="674.76" font-size="9.9" text-anchor="middle" font-weight="normal" fill="#1a1a1a" >Time (year)</text>
<text transform="translate(24.10,536.00) rotate(-90)" font-size="10.0" text-anchor="middle" font-weight="normal" fill="#1a1a1a" >Survival rate</text>
<path d="M71.20,449.90 L79.00,449.90 L79.00,451.40 L81.50,451.40 L81.50,454.00 L83.00,454.00 L83.00,456.10 L84.50,456.10 L84.50,459.00 L86.60,459.00 L86.60,460.90 L88.00,460.90 L88.00,461.50 L93.00,461.50 L93.00,463.50 L95.00,463.50 L95.00,467.00 L97.00,467.00 L97.00,471.00 L99.00,471.00 L99.00,472.70 L101.00,472.70 L101.00,475.10 L106.00,475.10 L106.00,477.50 L111.50,477.50 L111.50,481.00 L113.00,481.00 L113.00,483.70 L115.00,483.70 L115.00,487.00 L117.00,487.00 L117.00,489.30 L120.00,489.30 L120.00,492.00 L122.00,492.00 L122.00,495.00 L124.00,495.00 L124.00,496.90 L128.00,496.90 L128.00,499.50 L130.60,499.50 L130.60,502.00 L133.00,502.00 L133.00,504.50 L137.00,504.50 L137.00,506.00 L141.60,506.00 L141.60,507.40 L144.00,507.40 L144.00,509.50 L148.00,509.50 L148.00,512.00 L152.00,512.00 L152.00,514.00 L162.00,514.00 L162.00,515.50 L164.50,515.50 L164.50,518.00 L168.00,518.00 L168.00,519.70 L172.00,519.70 L172.00,521.50 L176.00,521.50 L176.00,523.50 L179.50,523.50 L179.50,525.50 L182.00,525.50 L182.00,528.20 L185.00,528.20 L185.00,528.30 L196.40,528.30 L196.40,530.20 L197.30,530.20 L197.30,534.00 L228.60,534.00 L228.60,535.90 L236.20,535.90 L236.20,536.90 L245.70,536.90 L245.70,537.80 L251.40,537.80 L251.40,538.70 L255.20,538.70 L255.20,539.70 L266.60,539.70 L266.60,540.60 L270.40,540.60 L270.40,541.60 L276.10,541.60 L276.10,542.50 L278.00,542.50 L278.00,544.00 L279.90,544.00 L279.90,545.40 L281.80,545.40 L281.80,547.30 L305.50,547.30" fill="none" stroke="#e21f1f" stroke-width="1.3"/>
<path d="M71.20,449.90 L79.00,449.90 L81.50,449.90 L81.50,451.80 L83.50,451.80 L83.50,455.20 L85.50,455.20 L85.50,459.00 L88.00,459.00 L88.00,460.30 L95.50,460.30 L95.50,464.70 L99.00,464.70 L99.00,466.60 L102.00,466.60 L102.00,468.50 L106.50,468.50 L106.50,469.40 L114.00,469.40 L114.00,471.30 L118.00,471.30 L118.00,473.20 L122.00,473.20 L122.00,475.10 L154.90,475.10 L154.90,478.00 L164.00,478.00 L164.00,480.80 L171.00,480.80 L171.00,482.70 L185.00,482.80 L189.70,482.80 L189.70,483.70 L192.60,483.70 L192.60,485.60 L198.00,485.60 L198.00,487.50 L216.30,487.50 L216.30,488.80 L229.60,488.80 L229.60,489.40 L232.40,489.40 L232.40,491.30 L236.20,491.30 L236.20,493.20 L240.00,493.20 L240.00,494.20 L247.60,494.20 L247.60,495.10 L251.40,495.10 L251.40,496.10 L254.30,496.10 L254.30,498.00 L256.00,498.00 L256.00,499.50 L257.10,499.50 L257.10,500.80 L260.90,500.80 L260.90,502.70 L274.20,502.70 L274.20,504.60 L276.10,504.60 L276.10,507.40 L305.50,507.40" fill="none" stroke="#1f1fdd" stroke-width="1.3"/>
<path d="M75.40,449.90H80.60M78.00,447.30V452.50" stroke="#e21f1f" stroke-width="0.9" fill="none"/><path d="M84.00,460.90H89.20M86.60,458.30V463.50" stroke="#e21f1f" stroke-width="0.9" fill="none"/><path d="M101.00,475.10H106.20M103.60,472.50V477.70" stroke="#e21f1f" stroke-width="0.9" fill="none"/><path d="M118.10,492.00H123.30M120.70,489.40V494.60" stroke="#e21f1f" stroke-width="0.9" fill="none"/><path d="M124.80,496.90H130.00M127.40,494.30V499.50" stroke="#e21f1f" stroke-width="0.9" fill="none"/><path d="M133.30,504.50H138.50M135.90,501.90V507.10" stroke="#e21f1f" stroke-width="0.9" fill="none"/><path d="M139.00,507.40H144.20M141.60,504.80V510.00" stroke="#e21f1f" stroke-width="0.9" fill="none"/><path d="M154.20,514.00H159.40M156.80,511.40V516.60" stroke="#e21f1f" stroke-width="0.9" fill="none"/><path d="M167.40,519.70H172.60M170.00,517.10V522.30" stroke="#e21f1f" stroke-width="0.9" fill="none"/><path d="M181.70,528.20H186.90M184.30,525.60V530.80" stroke="#e21f1f" stroke-width="0.9" fill="none"/><path d="M194.70,534.00H199.90M197.30,531.40V536.60" stroke="#e21f1f" stroke-width="0.9" fill="none"/><path d="M204.20,534.00H209.40M206.80,531.40V536.60" stroke="#e21f1f" stroke-width="0.9" fill="none"/><path d="M215.60,534.00H220.80M218.20,531.40V536.60" stroke="#e21f1f" stroke-width="0.9" fill="none"/><path d="M234.60,536.90H239.80M237.20,534.30V539.50" stroke="#e21f1f" stroke-width="0.9" fill="none"/><path d="M246.00,537.80H251.20M248.60,535.20V540.40" stroke="#e21f1f" stroke-width="0.9" fill="none"/><path d="M247.90,537.80H253.10M250.50,535.20V540.40" stroke="#e21f1f" stroke-width="0.9" fill="none"/><path d="M252.60,539.70H257.80M255.20,537.10V542.30" stroke="#e21f1f" stroke-width="0.9" fill="none"/><path d="M254.50,539.70H259.70M257.10,537.10V542.30" stroke="#e21f1f" stroke-width="0.9" fill="none"/><path d="M257.40,539.70H262.60M260.00,537.10V542.30" stroke="#e21f1f" stroke-width="0.9" fill="none"/><path d="M260.40,539.70H265.60M263.00,537.10V542.30" stroke="#e21f1f" stroke-width="0.9" fill="none"/><path d="M264.00,540.60H269.20M266.60,538.00V543.20" stroke="#e21f1f" stroke-width="0.9" fill="none"/><path d="M266.80,540.60H272.00M269.40,538.00V543.20" stroke="#e21f1f" stroke-width="0.9" fill="none"/><path d="M271.60,541.60H276.80M274.20,539.00V544.20" stroke="#e21f1f" stroke-width="0.9" fill="none"/><path d="M274.40,542.50H279.60M277.00,539.90V545.10" stroke="#e21f1f" stroke-width="0.9" fill="none"/><path d="M280.10,547.30H285.30M282.70,544.70V549.90" stroke="#e21f1f" stroke-width="0.9" fill="none"/><path d="M282.90,547.30H288.10M285.50,544.70V549.90" stroke="#e21f1f" stroke-width="0.9" fill="none"/><path d="M287.40,547.30H292.60M290.00,544.70V549.90" stroke="#e21f1f" stroke-width="0.9" fill="none"/><path d="M290.40,547.30H295.60M293.00,544.70V549.90" stroke="#e21f1f" stroke-width="0.9" fill="none"/><path d="M293.40,547.30H298.60M296.00,544.70V549.90" stroke="#e21f1f" stroke-width="0.9" fill="none"/><path d="M296.90,547.30H302.10M299.50,544.70V549.90" stroke="#e21f1f" stroke-width="0.9" fill="none"/><path d="M300.00,547.30H305.20M302.60,544.70V549.90" stroke="#e21f1f" stroke-width="0.9" fill="none"/><path d="M76.40,449.90H81.60M79.00,447.30V452.50" stroke="#1f1fdd" stroke-width="0.9" fill="none"/><path d="M79.20,451.80H84.40M81.80,449.20V454.40" stroke="#1f1fdd" stroke-width="0.9" fill="none"/><path d="M85.90,460.30H91.10M88.50,457.70V462.90" stroke="#1f1fdd" stroke-width="0.9" fill="none"/><path d="M103.90,469.40H109.10M106.50,466.80V472.00" stroke="#1f1fdd" stroke-width="0.9" fill="none"/><path d="M118.10,473.20H123.30M120.70,470.60V475.80" stroke="#1f1fdd" stroke-width="0.9" fill="none"/><path d="M133.30,475.10H138.50M135.90,472.50V477.70" stroke="#1f1fdd" stroke-width="0.9" fill="none"/><path d="M201.40,487.50H206.60M204.00,484.90V490.10" stroke="#1f1fdd" stroke-width="0.9" fill="none"/><path d="M237.40,494.20H242.60M240.00,491.60V496.80" stroke="#1f1fdd" stroke-width="0.9" fill="none"/><path d="M245.00,495.10H250.20M247.60,492.50V497.70" stroke="#1f1fdd" stroke-width="0.9" fill="none"/><path d="M246.90,495.10H252.10M249.50,492.50V497.70" stroke="#1f1fdd" stroke-width="0.9" fill="none"/><path d="M248.80,496.10H254.00M251.40,493.50V498.70" stroke="#1f1fdd" stroke-width="0.9" fill="none"/><path d="M251.70,498.00H256.90M254.30,495.40V500.60" stroke="#1f1fdd" stroke-width="0.9" fill="none"/><path d="M253.60,499.50H258.80M256.20,496.90V502.10" stroke="#1f1fdd" stroke-width="0.9" fill="none"/><path d="M255.50,500.80H260.70M258.10,498.20V503.40" stroke="#1f1fdd" stroke-width="0.9" fill="none"/><path d="M260.20,502.70H265.40M262.80,500.10V505.30" stroke="#1f1fdd" stroke-width="0.9" fill="none"/><path d="M262.10,502.70H267.30M264.70,500.10V505.30" stroke="#1f1fdd" stroke-width="0.9" fill="none"/><path d="M264.00,502.70H269.20M266.60,500.10V505.30" stroke="#1f1fdd" stroke-width="0.9" fill="none"/><path d="M265.90,502.70H271.10M268.50,500.10V505.30" stroke="#1f1fdd" stroke-width="0.9" fill="none"/><path d="M267.80,502.70H273.00M270.40,500.10V505.30" stroke="#1f1fdd" stroke-width="0.9" fill="none"/><path d="M274.40,507.40H279.60M277.00,504.80V510.00" stroke="#1f1fdd" stroke-width="0.9" fill="none"/><path d="M276.40,507.40H281.60M279.00,504.80V510.00" stroke="#1f1fdd" stroke-width="0.9" fill="none"/><path d="M278.40,507.40H283.60M281.00,504.80V510.00" stroke="#1f1fdd" stroke-width="0.9" fill="none"/><path d="M281.40,507.40H286.60M284.00,504.80V510.00" stroke="#1f1fdd" stroke-width="0.9" fill="none"/><path d="M284.90,507.40H290.10M287.50,504.80V510.00" stroke="#1f1fdd" stroke-width="0.9" fill="none"/><path d="M288.40,507.40H293.60M291.00,504.80V510.00" stroke="#1f1fdd" stroke-width="0.9" fill="none"/><path d="M292.40,507.40H297.60M295.00,504.80V510.00" stroke="#1f1fdd" stroke-width="0.9" fill="none"/><path d="M296.40,507.40H301.60M299.00,504.80V510.00" stroke="#1f1fdd" stroke-width="0.9" fill="none"/><path d="M300.00,507.40H305.20M302.60,504.80V510.00" stroke="#1f1fdd" stroke-width="0.9" fill="none"/>
<rect x="234.7" y="443.5" width="78.30" height="34.90" fill="#fff" stroke="#333333" stroke-width="1"/>
<line x1="243.20" y1="455.00" x2="262.30" y2="455.00" stroke="#e21f1f" stroke-width="1.3" />
<line x1="243.20" y1="467.00" x2="262.30" y2="467.00" stroke="#1f1fdd" stroke-width="1.3" />
<text x="270.50" y="458.53" font-size="9.8" text-anchor="start" font-weight="normal" fill="#1a1a1a" >High risk</text>
<text x="270.50" y="470.53" font-size="9.8" text-anchor="start" font-weight="normal" fill="#1a1a1a" >Low risk</text>
<text transform="translate(348.00,408.79) scale(1,1.22)" font-size="13.3" fill="#1a1a1a">D</text>
<rect x="409.4" y="423.2" width="232.20000000000005" height="216.3" fill="none" stroke="#333333" stroke-width="1"/>
<line x1="403.80" y1="631.50" x2="409.40" y2="631.50" stroke="#333333" stroke-width="1" />
<text transform="translate(396.60,631.50) rotate(-90)" font-size="10.0" text-anchor="middle" font-weight="normal" fill="#1a1a1a" >0.0</text>
<line x1="418.00" y1="639.50" x2="418.00" y2="645.00" stroke="#333333" stroke-width="1" />
<text x="418.00" y="659.10" font-size="10.0" text-anchor="middle" font-weight="normal" fill="#1a1a1a" >0.0</text>
<line x1="403.80" y1="591.50" x2="409.40" y2="591.50" stroke="#333333" stroke-width="1" />
<text transform="translate(396.60,591.50) rotate(-90)" font-size="10.0" text-anchor="middle" font-weight="normal" fill="#1a1a1a" >0.2</text>
<line x1="460.86" y1="639.50" x2="460.86" y2="645.00" stroke="#333333" stroke-width="1" />
<text x="460.86" y="659.10" font-size="10.0" text-anchor="middle" font-weight="normal" fill="#1a1a1a" >0.2</text>
<line x1="403.80" y1="551.50" x2="409.40" y2="551.50" stroke="#333333" stroke-width="1" />
<text transform="translate(396.60,551.50) rotate(-90)" font-size="10.0" text-anchor="middle" font-weight="normal" fill="#1a1a1a" >0.4</text>
<line x1="503.72" y1="639.50" x2="503.72" y2="645.00" stroke="#333333" stroke-width="1" />
<text x="503.72" y="659.10" font-size="10.0" text-anchor="middle" font-weight="normal" fill="#1a1a1a" >0.4</text>
<line x1="403.80" y1="511.50" x2="409.40" y2="511.50" stroke="#333333" stroke-width="1" />
<text transform="translate(396.60,511.50) rotate(-90)" font-size="10.0" text-anchor="middle" font-weight="normal" fill="#1a1a1a" >0.6</text>
<line x1="546.58" y1="639.50" x2="546.58" y2="645.00" stroke="#333333" stroke-width="1" />
<text x="546.58" y="659.10" font-size="10.0" text-anchor="middle" font-weight="normal" fill="#1a1a1a" >0.6</text>
<line x1="403.80" y1="471.50" x2="409.40" y2="471.50" stroke="#333333" stroke-width="1" />
<text transform="translate(396.60,471.50) rotate(-90)" font-size="10.0" text-anchor="middle" font-weight="normal" fill="#1a1a1a" >0.8</text>
<line x1="589.44" y1="639.50" x2="589.44" y2="645.00" stroke="#333333" stroke-width="1" />
<text x="589.44" y="659.10" font-size="10.0" text-anchor="middle" font-weight="normal" fill="#1a1a1a" >0.8</text>
<line x1="403.80" y1="431.50" x2="409.40" y2="431.50" stroke="#333333" stroke-width="1" />
<text transform="translate(396.60,431.50) rotate(-90)" font-size="10.0" text-anchor="middle" font-weight="normal" fill="#1a1a1a" >1.0</text>
<line x1="632.30" y1="639.50" x2="632.30" y2="645.00" stroke="#333333" stroke-width="1" />
<text x="632.30" y="659.10" font-size="10.0" text-anchor="middle" font-weight="normal" fill="#1a1a1a" >1.0</text>
<text x="525.50" y="680.20" font-size="10.0" text-anchor="middle" font-weight="normal" fill="#1a1a1a" >False positive rate</text>
<text transform="translate(373.60,531.20) rotate(-90)" font-size="10.0" text-anchor="middle" font-weight="normal" fill="#1a1a1a" >True positive rate</text>
<line x1="409.40" y1="639.50" x2="641.60" y2="423.20" stroke="#333" stroke-width="1" />
<path d="M418.2,631.3 H422.3 V625.2 H423.7 V614.7 H428.9 V608.6 H432.4 V596.3 L433.6,591.1 H436.3 V585 H438 V578.8 H442 V573.2 H445.6 V567.1 H469.2 V555.2 H476.2 V549 H492 V531.5 H497.2 V525.9 H502.5 V520.1 H506 V514 H520.3 V508.4 H526.5 V502.6 H541.8 V496.9 H545.6 V491.2 H562.7 L564,484.5 H566.5 V478.8 H568.4 V472.2 L569.7,466.5 H585.5 V460.8 L586.4,455.1 H589.3 V449.4 H596.9 V443.3 H609.2 V437.6 H622.5 V431.8 H632" fill="none" stroke="#dd2222" stroke-width="1.3"/>
<line x1="520.50" y1="618.40" x2="538.10" y2="618.40" stroke="#dd2222" stroke-width="1.3" />
<text x="545.70" y="621.59" font-size="8.85" text-anchor="start" font-weight="normal" fill="#1a1a1a" >risk score (AUC=0.595)</text>
<text transform="translate(19.40,715.89) scale(1,1.19)" font-size="13.3" fill="#1a1a1a">E</text>
<line x1="50.80" y1="750.10" x2="300.90" y2="750.10" stroke="#ebebeb" stroke-width="1" />
<text x="43.30" y="752.26" font-size="6.0" text-anchor="end" font-weight="normal" fill="#8a8a8a" >0.4</text>
<line x1="50.80" y1="780.40" x2="300.90" y2="780.40" stroke="#ebebeb" stroke-width="1" />
<text x="43.30" y="782.56" font-size="6.0" text-anchor="end" font-weight="normal" fill="#8a8a8a" >0.2</text>
<line x1="50.80" y1="810.70" x2="300.90" y2="810.70" stroke="#ebebeb" stroke-width="1" />
<text x="43.30" y="812.86" font-size="6.0" text-anchor="end" font-weight="normal" fill="#8a8a8a" >0</text>
<line x1="50.80" y1="841.00" x2="300.90" y2="841.00" stroke="#ebebeb" stroke-width="1" />
<text x="43.30" y="843.16" font-size="6.0" text-anchor="end" font-weight="normal" fill="#8a8a8a" >-0.2</text>
<line x1="50.80" y1="871.30" x2="300.90" y2="871.30" stroke="#ebebeb" stroke-width="1" />
<text x="43.30" y="873.46" font-size="6.0" text-anchor="end" font-weight="normal" fill="#8a8a8a" >-0.4</text>
<text transform="translate(24.88,808.00) rotate(-90)" font-size="9.1" text-anchor="middle" font-weight="normal" fill="#555" >TIDE Value</text>
<path d="M50.80,810.70 L50.80,759.49 L51.83,759.49 L51.83,771.61 L52.87,771.61 L52.87,774.95 L53.90,774.95 L53.90,777.67 L54.93,777.67 L54.93,780.05 L55.97,780.05 L55.97,780.81 L57.00,780.81 L57.00,781.57 L58.03,781.57 L58.03,782.34 L59.07,782.34 L59.07,783.04 L60.10,783.04 L60.10,783.73 L61.13,783.73 L61.13,784.42 L62.17,784.42 L62.17,785.11 L63.20,785.11 L63.20,785.80 L64.24,785.80 L64.24,786.49 L65.27,786.49 L65.27,787.18 L66.30,787.18 L66.30,787.87 L67.34,787.87 L67.34,788.56 L68.37,788.56 L68.37,789.25 L69.40,789.25 L69.40,789.94 L70.44,789.94 L70.44,790.58 L71.47,790.58 L71.47,791.11 L72.50,791.11 L72.50,791.64 L73.54,791.64 L73.54,792.17 L74.57,792.17 L74.57,792.70 L75.60,792.70 L75.60,793.23 L76.64,793.23 L76.64,793.62 L77.67,793.62 L77.67,793.91 L78.70,793.91 L78.70,794.21 L79.74,794.21 L79.74,794.51 L80.77,794.51 L80.77,794.81 L81.80,794.81 L81.80,795.10 L82.84,795.10 L82.84,795.40 L83.87,795.40 L83.87,795.70 L84.90,795.70 L84.90,795.97 L85.94,795.97 L85.94,796.24 L86.97,796.24 L86.97,796.50 L88.00,796.50 L88.00,796.77 L89.04,796.77 L89.04,797.04 L90.07,797.04 L90.07,797.31 L91.11,797.31 L91.11,797.58 L92.14,797.58 L92.14,797.85 L93.17,797.85 L93.17,798.12 L94.21,798.12 L94.21,798.39 L95.24,798.39 L95.24,798.66 L96.27,798.66 L96.27,798.93 L97.31,798.93 L97.31,799.20 L98.34,799.20 L98.34,799.47 L99.37,799.47 L99.37,799.75 L100.41,799.75 L100.41,800.02 L101.44,800.02 L101.44,800.29 L102.47,800.29 L102.47,800.56 L103.51,800.56 L103.51,800.83 L104.54,800.83 L104.54,801.04 L105.57,801.04 L105.57,801.25 L106.61,801.25 L106.61,801.45 L107.64,801.45 L107.64,801.66 L108.67,801.66 L108.67,801.87 L109.71,801.87 L109.71,802.07 L110.74,802.07 L110.74,802.28 L111.77,802.28 L111.77,802.48 L112.81,802.48 L112.81,802.69 L113.84,802.69 L113.84,802.87 L114.88,802.87 L114.88,803.02 L115.91,803.02 L115.91,803.16 L116.94,803.16 L116.94,803.30 L117.98,803.30 L117.98,803.45 L119.01,803.45 L119.01,803.59 L120.04,803.59 L120.04,803.73 L121.08,803.73 L121.08,803.88 L122.11,803.88 L122.11,804.02 L123.14,804.02 L123.14,804.17 L124.18,804.17 L124.18,804.31 L125.21,804.31 L125.21,804.45 L126.24,804.45 L126.24,804.59 L127.28,804.59 L127.28,804.74 L128.31,804.74 L128.31,804.88 L129.34,804.88 L129.34,805.02 L130.38,805.02 L130.38,805.16 L131.41,805.16 L131.41,805.30 L132.44,805.30 L132.44,805.45 L133.48,805.45 L133.48,805.59 L134.51,805.59 L134.51,805.71 L135.54,805.71 L135.54,805.84 L136.58,805.84 L136.58,805.97 L137.61,805.97 L137.61,806.10 L138.65,806.10 L138.65,806.22 L139.68,806.22 L139.68,806.35 L140.71,806.35 L140.71,806.48 L141.75,806.48 L141.75,806.61 L142.78,806.61 L142.78,806.74 L143.81,806.74 L143.81,806.88 L144.85,806.88 L144.85,807.02 L145.88,807.02 L145.88,807.16 L146.91,807.16 L146.91,807.30 L147.95,807.30 L147.95,807.44 L148.98,807.44 L148.98,807.59 L150.01,807.59 L150.01,807.73 L151.05,807.73 L151.05,807.87 L152.08,807.87 L152.08,808.01 L153.11,808.01 L153.11,808.15 L154.15,808.15 L154.15,808.24 L155.18,808.24 L155.18,808.34 L156.21,808.34 L156.21,808.43 L157.25,808.43 L157.25,808.53 L158.28,808.53 L158.28,808.63 L159.31,808.63 L159.31,808.72 L160.35,808.72 L160.35,808.82 L161.38,808.82 L161.38,808.91 L162.41,808.91 L162.41,809.01 L163.45,809.01 L163.45,809.15 L164.48,809.15 L164.48,809.31 L165.52,809.31 L165.52,809.47 L166.55,809.47 L166.55,809.63 L167.58,809.63 L167.58,809.78 L168.62,809.78 L168.62,809.94 L169.65,809.94 L169.65,810.10 L170.68,810.10 L170.68,810.26 L171.72,810.26 L171.72,810.42 L172.75,810.42 L172.75,810.57 L173.78,810.57 L173.78,810.70 Z" fill="#4242e2"/>
<rect x="50.80" y="759.49" width="1.03" height="51.21" fill="#8d8de6"/>
<path d="M173.78,810.70 L173.78,810.72 L174.82,810.72 L174.82,810.89 L175.85,810.89 L175.85,811.05 L176.88,811.05 L176.88,811.22 L177.92,811.22 L177.92,811.37 L178.95,811.37 L178.95,811.49 L179.98,811.49 L179.98,811.61 L181.02,811.61 L181.02,811.73 L182.05,811.73 L182.05,811.85 L183.08,811.85 L183.08,811.96 L184.12,811.96 L184.12,812.08 L185.15,812.08 L185.15,812.20 L186.18,812.20 L186.18,812.32 L187.22,812.32 L187.22,812.44 L188.25,812.44 L188.25,812.56 L189.29,812.56 L189.29,812.68 L190.32,812.68 L190.32,812.82 L191.35,812.82 L191.35,812.95 L192.39,812.95 L192.39,813.09 L193.42,813.09 L193.42,813.22 L194.45,813.22 L194.45,813.36 L195.49,813.36 L195.49,813.49 L196.52,813.49 L196.52,813.63 L197.55,813.63 L197.55,813.76 L198.59,813.76 L198.59,813.90 L199.62,813.90 L199.62,814.03 L200.65,814.03 L200.65,814.17 L201.69,814.17 L201.69,814.30 L202.72,814.30 L202.72,814.44 L203.75,814.44 L203.75,814.57 L204.79,814.57 L204.79,814.71 L205.82,814.71 L205.82,814.84 L206.85,814.84 L206.85,814.98 L207.89,814.98 L207.89,815.11 L208.92,815.11 L208.92,815.25 L209.95,815.25 L209.95,815.39 L210.99,815.39 L210.99,815.54 L212.02,815.54 L212.02,815.68 L213.05,815.68 L213.05,815.82 L214.09,815.82 L214.09,815.97 L215.12,815.97 L215.12,816.11 L216.16,816.11 L216.16,816.25 L217.19,816.25 L217.19,816.39 L218.22,816.39 L218.22,816.54 L219.26,816.54 L219.26,816.68 L220.29,816.68 L220.29,816.82 L221.32,816.82 L221.32,816.97 L222.36,816.97 L222.36,817.11 L223.39,817.11 L223.39,817.25 L224.42,817.25 L224.42,817.40 L225.46,817.40 L225.46,817.54 L226.49,817.54 L226.49,817.68 L227.52,817.68 L227.52,817.83 L228.56,817.83 L228.56,817.97 L229.59,817.97 L229.59,818.13 L230.62,818.13 L230.62,818.30 L231.66,818.30 L231.66,818.47 L232.69,818.47 L232.69,818.64 L233.72,818.64 L233.72,818.80 L234.76,818.80 L234.76,818.97 L235.79,818.97 L235.79,819.14 L236.82,819.14 L236.82,819.30 L237.86,819.30 L237.86,819.47 L238.89,819.47 L238.89,819.64 L239.93,819.64 L239.93,819.80 L240.96,819.80 L240.96,819.97 L241.99,819.97 L241.99,820.14 L243.03,820.14 L243.03,820.30 L244.06,820.30 L244.06,820.47 L245.09,820.47 L245.09,820.64 L246.13,820.64 L246.13,820.81 L247.16,820.81 L247.16,820.97 L248.19,820.97 L248.19,821.14 L249.23,821.14 L249.23,821.30 L250.26,821.30 L250.26,821.46 L251.29,821.46 L251.29,821.61 L252.33,821.61 L252.33,821.77 L253.36,821.77 L253.36,821.93 L254.39,821.93 L254.39,822.09 L255.43,822.09 L255.43,822.25 L256.46,822.25 L256.46,822.40 L257.49,822.40 L257.49,822.56 L258.53,822.56 L258.53,822.74 L259.56,822.74 L259.56,822.95 L260.59,822.95 L260.59,823.15 L261.63,823.15 L261.63,823.36 L262.66,823.36 L262.66,823.57 L263.70,823.57 L263.70,823.78 L264.73,823.78 L264.73,823.98 L265.76,823.98 L265.76,824.19 L266.80,824.19 L266.80,824.40 L267.83,824.40 L267.83,824.61 L268.86,824.61 L268.86,824.89 L269.90,824.89 L269.90,825.19 L270.93,825.19 L270.93,825.49 L271.96,825.49 L271.96,825.80 L273.00,825.80 L273.00,826.10 L274.03,826.10 L274.03,826.40 L275.06,826.40 L275.06,826.70 L276.10,826.70 L276.10,827.00 L277.13,827.00 L277.13,827.30 L278.16,827.30 L278.16,827.66 L279.20,827.66 L279.20,828.19 L280.23,828.19 L280.23,828.72 L281.26,828.72 L281.26,829.25 L282.30,829.25 L282.30,829.78 L283.33,829.78 L283.33,830.31 L284.36,830.31 L284.36,830.98 L285.40,830.98 L285.40,831.74 L286.43,831.74 L286.43,832.50 L287.46,832.50 L287.46,833.26 L288.50,833.26 L288.50,834.04 L289.53,834.04 L289.53,834.83 L290.57,834.83 L290.57,835.61 L291.60,835.61 L291.60,836.39 L292.63,836.39 L292.63,837.19 L293.67,837.19 L293.67,838.00 L294.70,838.00 L294.70,838.80 L295.73,838.80 L295.73,839.67 L296.77,839.67 L296.77,840.98 L297.80,840.98 L297.80,842.28 L298.83,842.28 L298.83,843.80 L299.87,843.80 L299.87,845.97 L300.90,845.97 L300.90,810.70 Z" fill="#ec3c3c"/>
<g><rect x="53.80" y="759.19" width="0.7" height="90.90" fill="#ffffff" opacity="0.22"/><rect x="57.90" y="759.19" width="0.7" height="90.90" fill="#ffffff" opacity="0.22"/><rect x="62.00" y="759.19" width="0.7" height="90.90" fill="#ffffff" opacity="0.22"/><rect x="66.10" y="759.19" width="0.7" height="90.90" fill="#ffffff" opacity="0.22"/><rect x="70.20" y="759.19" width="0.7" height="90.90" fill="#ffffff" opacity="0.22"/><rect x="74.30" y="759.19" width="0.7" height="90.90" fill="#ffffff" opacity="0.22"/><rect x="78.40" y="759.19" width="0.7" height="90.90" fill="#ffffff" opacity="0.22"/><rect x="82.50" y="759.19" width="0.7" height="90.90" fill="#ffffff" opacity="0.22"/><rect x="86.60" y="759.19" width="0.7" height="90.90" fill="#ffffff" opacity="0.22"/><rect x="90.70" y="759.19" width="0.7" height="90.90" fill="#ffffff" opacity="0.22"/><rect x="94.80" y="759.19" width="0.7" height="90.90" fill="#ffffff" opacity="0.22"/><rect x="98.90" y="759.19" width="0.7" height="90.90" fill="#ffffff" opacity="0.22"/><rect x="103.00" y="759.19" width="0.7" height="90.90" fill="#ffffff" opacity="0.22"/><rect x="107.10" y="759.19" width="0.7" height="90.90" fill="#ffffff" opacity="0.22"/><rect x="111.20" y="759.19" width="0.7" height="90.90" fill="#ffffff" opacity="0.22"/><rect x="115.30" y="759.19" width="0.7" height="90.90" fill="#ffffff" opacity="0.22"/><rect x="119.40" y="759.19" width="0.7" height="90.90" fill="#ffffff" opacity="0.22"/><rect x="123.50" y="759.19" width="0.7" height="90.90" fill="#ffffff" opacity="0.22"/><rect x="127.60" y="759.19" width="0.7" height="90.90" fill="#ffffff" opacity="0.22"/><rect x="131.70" y="759.19" width="0.7" height="90.90" fill="#ffffff" opacity="0.22"/><rect x="135.80" y="759.19" width="0.7" height="90.90" fill="#ffffff" opacity="0.22"/><rect x="139.90" y="759.19" width="0.7" height="90.90" fill="#ffffff" opacity="0.22"/><rect x="144.00" y="759.19" width="0.7" height="90.90" fill="#ffffff" opacity="0.22"/><rect x="148.10" y="759.19" width="0.7" height="90.90" fill="#ffffff" opacity="0.22"/><rect x="152.20" y="759.19" width="0.7" height="90.90" fill="#ffffff" opacity="0.22"/><rect x="156.30" y="759.19" width="0.7" height="90.90" fill="#ffffff" opacity="0.22"/><rect x="160.40" y="759.19" width="0.7" height="90.90" fill="#ffffff" opacity="0.22"/><rect x="164.50" y="759.19" width="0.7" height="90.90" fill="#ffffff" opacity="0.22"/><rect x="168.60" y="759.19" width="0.7" height="90.90" fill="#ffffff" opacity="0.22"/><rect x="172.70" y="759.19" width="0.7" height="90.90" fill="#ffffff" opacity="0.22"/><rect x="176.80" y="759.19" width="0.7" height="90.90" fill="#ffffff" opacity="0.22"/><rect x="180.90" y="759.19" width="0.7" height="90.90" fill="#ffffff" opacity="0.22"/><rect x="185.00" y="759.19" width="0.7" height="90.90" fill="#ffffff" opacity="0.22"/><rect x="189.10" y="759.19" width="0.7" height="90.90" fill="#ffffff" opacity="0.22"/><rect x="193.20" y="759.19" width="0.7" height="90.90" fill="#ffffff" opacity="0.22"/><rect x="197.30" y="759.19" width="0.7" height="90.90" fill="#ffffff" opacity="0.22"/><rect x="201.40" y="759.19" width="0.7" height="90.90" fill="#ffffff" opacity="0.22"/><rect x="205.50" y="759.19" width="0.7" height="90.90" fill="#ffffff" opacity="0.22"/><rect x="209.60" y="759.19" width="0.7" height="90.90" fill="#ffffff" opacity="0.22"/><rect x="213.70" y="759.19" width="0.7" height="90.90" fill="#ffffff" opacity="0.22"/><rect x="217.80" y="759.19" width="0.7" height="90.90" fill="#ffffff" opacity="0.22"/><rect x="221.90" y="759.19" width="0.7" height="90.90" fill="#ffffff" opacity="0.22"/><rect x="226.00" y="759.19" width="0.7" height="90.90" fill="#ffffff" opacity="0.22"/><rect x="230.10" y="759.19" width="0.7" height="90.90" fill="#ffffff" opacity="0.22"/><rect x="234.20" y="759.19" width="0.7" height="90.90" fill="#ffffff" opacity="0.22"/><rect x="238.30" y="759.19" width="0.7" height="90.90" fill="#ffffff" opacity="0.22"/><rect x="242.40" y="759.19" width="0.7" height="90.90" fill="#ffffff" opacity="0.22"/><rect x="246.50" y="759.19" width="0.7" height="90.90" fill="#ffffff" opacity="0.22"/><rect x="250.60" y="759.19" width="0.7" height="90.90" fill="#ffffff" opacity="0.22"/><rect x="254.70" y="759.19" width="0.7" height="90.90" fill="#ffffff" opacity="0.22"/><rect x="258.80" y="759.19" width="0.7" height="90.90" fill="#ffffff" opacity="0.22"/><rect x="262.90" y="759.19" width="0.7" height="90.90" fill="#ffffff" opacity="0.22"/><rect x="267.00" y="759.19" width="0.7" height="90.90" fill="#ffffff" opacity="0.22"/><rect x="271.10" y="759.19" width="0.7" height="90.90" fill="#ffffff" opacity="0.22"/><rect x="275.20" y="759.19" width="0.7" height="90.90" fill="#ffffff" opacity="0.22"/><rect x="279.30" y="759.19" width="0.7" height="90.90" fill="#ffffff" opacity="0.22"/><rect x="283.40" y="759.19" width="0.7" height="90.90" fill="#ffffff" opacity="0.22"/><rect x="287.50" y="759.19" width="0.7" height="90.90" fill="#ffffff" opacity="0.22"/><rect x="291.60" y="759.19" width="0.7" height="90.90" fill="#ffffff" opacity="0.22"/><rect x="295.70" y="759.19" width="0.7" height="90.90" fill="#ffffff" opacity="0.22"/><rect x="299.80" y="759.19" width="0.7" height="90.90" fill="#ffffff" opacity="0.22"/></g>
<line x1="50.80" y1="870.60" x2="300.90" y2="870.60" stroke="#d8d8d8" stroke-width="1" />
<line x1="51.50" y1="870.60" x2="51.50" y2="872.60" stroke="#d0d0d0" stroke-width="0.8" /><text transform="translate(53.70,876.40) rotate(-90)" font-size="6.1" text-anchor="end" font-weight="normal" fill="#7a7a7a" >High_Risk_242</text><line x1="58.55" y1="870.60" x2="58.55" y2="872.60" stroke="#d0d0d0" stroke-width="0.8" /><text transform="translate(60.75,876.40) rotate(-90)" font-size="6.1" text-anchor="end" font-weight="normal" fill="#7a7a7a" >High_Risk_284</text><line x1="65.60" y1="870.60" x2="65.60" y2="872.60" stroke="#d0d0d0" stroke-width="0.8" /><text transform="translate(67.80,876.40) rotate(-90)" font-size="6.1" text-anchor="end" font-weight="normal" fill="#7a7a7a" >Low_Risk_141</text><line x1="72.65" y1="870.60" x2="72.65" y2="872.60" stroke="#d0d0d0" stroke-width="0.8" /><text transform="translate(74.85,876.40) rotate(-90)" font-size="6.1" text-anchor="end" font-weight="normal" fill="#7a7a7a" >Low_Risk_116</text><line x1="79.70" y1="870.60" x2="79.70" y2="872.60" stroke="#d0d0d0" stroke-width="0.8" /><text transform="translate(81.90,876.40) rotate(-90)" font-size="6.1" text-anchor="end" font-weight="normal" fill="#7a7a7a" >High_Risk_142</text><line x1="86.75" y1="870.60" x2="86.75" y2="872.60" stroke="#d0d0d0" stroke-width="0.8" /><text transform="translate(88.95,876.40) rotate(-90)" font-size="6.1" text-anchor="end" font-weight="normal" fill="#7a7a7a" >High_Risk_349</text><line x1="93.80" y1="870.60" x2="93.80" y2="872.60" stroke="#d0d0d0" stroke-width="0.8" /><text transform="translate(96.00,876.40) rotate(-90)" font-size="6.1" text-anchor="end" font-weight="normal" fill="#7a7a7a" >Low_Risk_125</text><line x1="100.85" y1="870.60" x2="100.85" y2="872.60" stroke="#d0d0d0" stroke-width="0.8" /><text transform="translate(103.05,876.40) rotate(-90)" font-size="6.1" text-anchor="end" font-weight="normal" fill="#7a7a7a" >Low_Risk_134</text><line x1="107.90" y1="870.60" x2="107.90" y2="872.60" stroke="#d0d0d0" stroke-width="0.8" /><text transform="translate(110.10,876.40) rotate(-90)" font-size="6.1" text-anchor="end" font-weight="normal" fill="#7a7a7a" >High_Risk_323</text><line x1="114.95" y1="870.60" x2="114.95" y2="872.60" stroke="#d0d0d0" stroke-width="0.8" /><text transform="translate(117.15,876.40) rotate(-90)" font-size="6.1" text-anchor="end" font-weight="normal" fill="#7a7a7a" >High_Risk_274</text><line x1="122.00" y1="870.60" x2="122.00" y2="872.60" stroke="#d0d0d0" stroke-width="0.8" /><text transform="translate(124.20,876.40) rotate(-90)" font-size="6.1" text-anchor="end" font-weight="normal" fill="#7a7a7a" >Low_Risk_23</text><line x1="129.05" y1="870.60" x2="129.05" y2="872.60" stroke="#d0d0d0" stroke-width="0.8" /><text transform="translate(131.25,876.40) rotate(-90)" font-size="6.1" text-anchor="end" font-weight="normal" fill="#7a7a7a" >High_Risk_221</text><line x1="136.10" y1="870.60" x2="136.10" y2="872.60" stroke="#d0d0d0" stroke-width="0.8" /><text transform="translate(138.30,876.40) rotate(-90)" font-size="6.1" text-anchor="end" font-weight="normal" fill="#7a7a7a" >High_Risk_308</text><line x1="143.15" y1="870.60" x2="143.15" y2="872.60" stroke="#d0d0d0" stroke-width="0.8" /><text transform="translate(145.35,876.40) rotate(-90)" font-size="6.1" text-anchor="end" font-weight="normal" fill="#7a7a7a" >High_Risk_335</text><line x1="150.20" y1="870.60" x2="150.20" y2="872.60" stroke="#d0d0d0" stroke-width="0.8" /><text transform="translate(152.40,876.40) rotate(-90)" font-size="6.1" text-anchor="end" font-weight="normal" fill="#7a7a7a" >Low_Risk_150</text><line x1="157.25" y1="870.60" x2="157.25" y2="872.60" stroke="#d0d0d0" stroke-width="0.8" /><text transform="translate(159.45,876.40) rotate(-90)" font-size="6.1" text-anchor="end" font-weight="normal" fill="#7a7a7a" >High_Risk_211</text><line x1="164.30" y1="870.60" x2="164.30" y2="872.60" stroke="#d0d0d0" stroke-width="0.8" /><text transform="translate(166.50,876.40) rotate(-90)" font-size="6.1" text-anchor="end" font-weight="normal" fill="#7a7a7a" >Low_Risk_147</text><line x1="171.35" y1="870.60" x2="171.35" y2="872.60" stroke="#d0d0d0" stroke-width="0.8" /><text transform="translate(173.55,876.40) rotate(-90)" font-size="6.1" text-anchor="end" font-weight="normal" fill="#7a7a7a" >Low_Risk_129</text><line x1="178.40" y1="870.60" x2="178.40" y2="872.60" stroke="#d0d0d0" stroke-width="0.8" /><text transform="translate(180.60,876.40) rotate(-90)" font-size="6.1" text-anchor="end" font-weight="normal" fill="#7a7a7a" >Low_Risk_85</text><line x1="185.45" y1="870.60" x2="185.45" y2="872.60" stroke="#d0d0d0" stroke-width="0.8" /><text transform="translate(187.65,876.40) rotate(-90)" font-size="6.1" text-anchor="end" font-weight="normal" fill="#7a7a7a" >High_Risk_252</text><line x1="192.50" y1="870.60" x2="192.50" y2="872.60" stroke="#d0d0d0" stroke-width="0.8" /><text transform="translate(194.70,876.40) rotate(-90)" font-size="6.1" text-anchor="end" font-weight="normal" fill="#7a7a7a" >High_Risk_259</text><line x1="199.55" y1="870.60" x2="199.55" y2="872.60" stroke="#d0d0d0" stroke-width="0.8" /><text transform="translate(201.75,876.40) rotate(-90)" font-size="6.1" text-anchor="end" font-weight="normal" fill="#7a7a7a" >High_Risk_250</text><line x1="206.60" y1="870.60" x2="206.60" y2="872.60" stroke="#d0d0d0" stroke-width="0.8" /><text transform="translate(208.80,876.40) rotate(-90)" font-size="6.1" text-anchor="end" font-weight="normal" fill="#7a7a7a" >Low_Risk_84</text><line x1="213.65" y1="870.60" x2="213.65" y2="872.60" stroke="#d0d0d0" stroke-width="0.8" /><text transform="translate(215.85,876.40) rotate(-90)" font-size="6.1" text-anchor="end" font-weight="normal" fill="#7a7a7a" >High_Risk_195</text><line x1="220.70" y1="870.60" x2="220.70" y2="872.60" stroke="#d0d0d0" stroke-width="0.8" /><text transform="translate(222.90,876.40) rotate(-90)" font-size="6.1" text-anchor="end" font-weight="normal" fill="#7a7a7a" >High_Risk_201</text><line x1="227.75" y1="870.60" x2="227.75" y2="872.60" stroke="#d0d0d0" stroke-width="0.8" /><text transform="translate(229.95,876.40) rotate(-90)" font-size="6.1" text-anchor="end" font-weight="normal" fill="#7a7a7a" >High_Risk_192</text><line x1="234.80" y1="870.60" x2="234.80" y2="872.60" stroke="#d0d0d0" stroke-width="0.8" /><text transform="translate(237.00,876.40) rotate(-90)" font-size="6.1" text-anchor="end" font-weight="normal" fill="#7a7a7a" >Low_Risk_161</text><line x1="241.85" y1="870.60" x2="241.85" y2="872.60" stroke="#d0d0d0" stroke-width="0.8" /><text transform="translate(244.05,876.40) rotate(-90)" font-size="6.1" text-anchor="end" font-weight="normal" fill="#7a7a7a" >Low_Risk_58</text><line x1="248.90" y1="870.60" x2="248.90" y2="872.60" stroke="#d0d0d0" stroke-width="0.8" /><text transform="translate(251.10,876.40) rotate(-90)" font-size="6.1" text-anchor="end" font-weight="normal" fill="#7a7a7a" >Low_Risk_113</text><line x1="255.95" y1="870.60" x2="255.95" y2="872.60" stroke="#d0d0d0" stroke-width="0.8" /><text transform="translate(258.15,876.40) rotate(-90)" font-size="6.1" text-anchor="end" font-weight="normal" fill="#7a7a7a" >Low_Risk_30</text><line x1="263.00" y1="870.60" x2="263.00" y2="872.60" stroke="#d0d0d0" stroke-width="0.8" /><text transform="translate(265.20,876.40) rotate(-90)" font-size="6.1" text-anchor="end" font-weight="normal" fill="#7a7a7a" >Low_Risk_131</text><line x1="270.05" y1="870.60" x2="270.05" y2="872.60" stroke="#d0d0d0" stroke-width="0.8" /><text transform="translate(272.25,876.40) rotate(-90)" font-size="6.1" text-anchor="end" font-weight="normal" fill="#7a7a7a" >Low_Risk_52</text><line x1="277.10" y1="870.60" x2="277.10" y2="872.60" stroke="#d0d0d0" stroke-width="0.8" /><text transform="translate(279.30,876.40) rotate(-90)" font-size="6.1" text-anchor="end" font-weight="normal" fill="#7a7a7a" >Low_Risk_42</text><line x1="284.15" y1="870.60" x2="284.15" y2="872.60" stroke="#d0d0d0" stroke-width="0.8" /><text transform="translate(286.35,876.40) rotate(-90)" font-size="6.1" text-anchor="end" font-weight="normal" fill="#7a7a7a" >Low_Risk_61</text><line x1="291.20" y1="870.60" x2="291.20" y2="872.60" stroke="#d0d0d0" stroke-width="0.8" /><text transform="translate(293.40,876.40) rotate(-90)" font-size="6.1" text-anchor="end" font-weight="normal" fill="#7a7a7a" >Low_Risk_160</text><line x1="298.25" y1="870.60" x2="298.25" y2="872.60" stroke="#d0d0d0" stroke-width="0.8" /><text transform="translate(300.45,876.40) rotate(-90)" font-size="6.1" text-anchor="end" font-weight="normal" fill="#7a7a7a" >High_Risk_321</text>
<circle cx="108.9" cy="928.6" r="3.1" fill="#1111cc"/>
<text x="115.70" y="931.27" font-size="6.3" text-anchor="start" font-weight="bold" fill="#333" >Nonresponder</text>
<circle cx="170.9" cy="928.6" r="3.1" fill="#e01111"/>
<text x="177.80" y="931.27" font-size="6.3" text-anchor="start" font-weight="bold" fill="#333" >Responder</text>
<text transform="translate(323.30,715.78) scale(1,1.24)" font-size="13.0" fill="#1a1a1a">F</text><text x="371.50" y="704.16" font-size="6.0" text-anchor="start" font-weight="normal" fill="#1a1a1a" >Risk</text><rect x="386.80" y="697.70" width="8.1" height="8.6" fill="#4a7dc4" stroke="#444" stroke-width="0.4"/><text x="397.10" y="703.73" font-size="4.8" text-anchor="start" font-weight="normal" fill="#1a1a1a" >Low_Risk</text><rect x="421.20" y="697.70" width="8.1" height="8.6" fill="#e0302a" stroke="#444" stroke-width="0.4"/><text x="432.10" y="703.73" font-size="4.8" text-anchor="start" font-weight="normal" fill="#1a1a1a" >High_Risk</text><line x1="353.80" y1="714.10" x2="353.80" y2="824.40" stroke="#333" stroke-width="0.7" /><line x1="353.80" y1="824.40" x2="471.40" y2="824.40" stroke="#333" stroke-width="0.7" /><line x1="351.80" y1="723.30" x2="353.80" y2="723.30" stroke="#333" stroke-width="0.6" /><text x="350.20" y="725.46" font-size="6.0" text-anchor="end" font-weight="normal" fill="#1a1a1a" >0.4</text><line x1="351.80" y1="749.90" x2="353.80" y2="749.90" stroke="#333" stroke-width="0.6" /><text x="350.20" y="752.06" font-size="6.0" text-anchor="end" font-weight="normal" fill="#1a1a1a" >0.2</text><line x1="351.80" y1="776.60" x2="353.80" y2="776.60" stroke="#333" stroke-width="0.6" /><text x="350.20" y="778.76" font-size="6.0" text-anchor="end" font-weight="normal" fill="#1a1a1a" >0.0</text><line x1="351.80" y1="803.30" x2="353.80" y2="803.30" stroke="#333" stroke-width="0.6" /><text x="350.20" y="805.46" font-size="6.0" text-anchor="end" font-weight="normal" fill="#1a1a1a" >-0.2</text><line x1="386.10" y1="824.40" x2="386.10" y2="826.40" stroke="#333" stroke-width="0.6" /><text x="386.10" y="832.26" font-size="6.0" text-anchor="middle" font-weight="normal" fill="#1a1a1a" >Low_Risk</text><line x1="439.80" y1="824.40" x2="439.80" y2="826.40" stroke="#333" stroke-width="0.6" /><text x="439.80" y="832.26" font-size="6.0" text-anchor="middle" font-weight="normal" fill="#1a1a1a" >High_Risk</text><text x="412.60" y="839.76" font-size="6.0" text-anchor="middle" font-weight="normal" fill="#1a1a1a" >Risk</text><text transform="translate(338.56,770.40) rotate(-90)" font-size="6.0" text-anchor="middle" font-weight="normal" fill="#1a1a1a" >Exclusion</text>
<path d="M386.00,744.50 C386.05,744.65 386.12,744.62 386.30,745.40 C386.48,746.18 386.68,747.77 387.10,749.20 C387.53,750.63 388.37,752.57 388.85,754.00 C389.33,755.43 389.52,756.70 390.00,757.80 C390.48,758.90 390.63,759.65 391.70,760.60 C392.77,761.55 394.82,762.55 396.40,763.50 C397.98,764.45 399.85,765.20 401.20,766.30 C402.55,767.40 403.80,768.98 404.50,770.10 C405.20,771.22 405.08,772.05 405.40,773.00 C405.72,773.95 405.68,774.70 406.40,775.80 C407.12,776.90 408.60,778.18 409.70,779.60 C410.80,781.02 412.83,782.88 413.00,784.30 C413.17,785.72 412.03,786.83 410.70,788.10 C409.37,789.37 407.07,790.47 405.00,791.90 C402.93,793.33 400.52,795.12 398.30,796.70 C396.08,798.28 393.27,799.98 391.70,801.40 C390.12,802.82 389.62,803.93 388.85,805.20 C388.08,806.47 387.53,807.73 387.10,809.00 C386.68,810.27 386.48,812.05 386.30,812.80 C386.12,813.55 386.10,813.50 386.00,813.50 C385.90,813.50 385.88,813.55 385.70,812.80 C385.52,812.05 385.32,810.27 384.90,809.00 C384.47,807.73 383.92,806.47 383.15,805.20 C382.38,803.93 381.88,802.82 380.30,801.40 C378.73,799.98 375.92,798.28 373.70,796.70 C371.48,795.12 369.07,793.33 367.00,791.90 C364.93,790.47 362.63,789.37 361.30,788.10 C359.97,786.83 358.83,785.72 359.00,784.30 C359.17,782.88 361.20,781.02 362.30,779.60 C363.40,778.18 364.88,776.90 365.60,775.80 C366.32,774.70 366.28,773.95 366.60,773.00 C366.92,772.05 366.80,771.22 367.50,770.10 C368.20,768.98 369.45,767.40 370.80,766.30 C372.15,765.20 374.02,764.45 375.60,763.50 C377.18,762.55 379.23,761.55 380.30,760.60 C381.37,759.65 381.52,758.90 382.00,757.80 C382.48,756.70 382.67,755.43 383.15,754.00 C383.63,752.57 384.47,750.63 384.90,749.20 C385.32,747.77 385.52,746.18 385.70,745.40 C385.88,744.62 385.95,744.65 386.00,744.50 Z" fill="#4a7dc4" stroke="#222" stroke-width="0.7"/><line x1="386.00" y1="741.20" x2="386.00" y2="819.40" stroke="#222" stroke-width="0.6" /><rect x="380.60" y="772.80" width="10.90" height="14.40" fill="#fff" stroke="#333" stroke-width="0.5"/><line x1="380.60" y1="781.00" x2="391.50" y2="781.00" stroke="#333" stroke-width="0.8" />
<path d="M439.90,735.00 C439.95,735.10 439.99,734.82 440.20,735.60 C440.41,736.38 440.67,738.32 441.14,739.70 C441.61,741.08 442.34,742.52 443.00,743.90 C443.66,745.28 444.33,746.63 445.10,748.00 C445.87,749.37 446.58,750.73 447.60,752.10 C448.62,753.47 449.90,754.82 451.20,756.20 C452.50,757.58 453.93,759.02 455.40,760.40 C456.87,761.78 458.88,763.13 460.00,764.50 C461.12,765.87 461.63,767.23 462.10,768.60 C462.57,769.97 462.90,771.32 462.80,772.70 C462.70,774.08 462.22,775.52 461.50,776.90 C460.78,778.28 459.87,779.63 458.50,781.00 C457.13,782.37 454.93,783.73 453.30,785.10 C451.67,786.47 449.90,787.82 448.70,789.20 C447.50,790.58 446.80,792.02 446.10,793.40 C445.40,794.78 445.10,795.97 444.50,797.50 C443.90,799.03 443.10,800.88 442.50,802.60 C441.90,804.32 441.28,806.25 440.90,807.80 C440.52,809.35 440.37,811.12 440.20,811.90 C440.03,812.68 440.00,812.50 439.90,812.50 C439.80,812.50 439.77,812.68 439.60,811.90 C439.43,811.12 439.28,809.35 438.90,807.80 C438.52,806.25 437.90,804.32 437.30,802.60 C436.70,800.88 435.90,799.03 435.30,797.50 C434.70,795.97 434.40,794.78 433.70,793.40 C433.00,792.02 432.30,790.58 431.10,789.20 C429.90,787.82 428.13,786.47 426.50,785.10 C424.87,783.73 422.67,782.37 421.30,781.00 C419.93,779.63 419.02,778.28 418.30,776.90 C417.58,775.52 417.10,774.08 417.00,772.70 C416.90,771.32 417.23,769.97 417.70,768.60 C418.17,767.23 418.68,765.87 419.80,764.50 C420.92,763.13 422.93,761.78 424.40,760.40 C425.87,759.02 427.30,757.58 428.60,756.20 C429.90,754.82 431.18,753.47 432.20,752.10 C433.22,750.73 433.93,749.37 434.70,748.00 C435.47,746.63 436.14,745.28 436.80,743.90 C437.46,742.52 438.19,741.08 438.66,739.70 C439.13,738.32 439.39,736.38 439.60,735.60 C439.81,734.82 439.85,735.10 439.90,735.00 Z" fill="#e0302a" stroke="#222" stroke-width="0.7"/><line x1="439.90" y1="719.60" x2="439.90" y2="816.00" stroke="#222" stroke-width="0.6" /><rect x="434.20" y="765.00" width="11.40" height="16.00" fill="#fff" stroke="#333" stroke-width="0.5"/><line x1="434.20" y1="772.20" x2="445.60" y2="772.20" stroke="#333" stroke-width="0.8" />
<circle cx="439.8" cy="728.5" r="0.9" fill="#222"/><circle cx="439.8" cy="731" r="0.9" fill="#222"/><circle cx="439.8" cy="734.5" r="0.9" fill="#222"/>
<path d="M386.10,729.40 V727.60 H439.80 V729.40" fill="none" stroke="#333" stroke-width="0.7"/><text x="413.20" y="726.66" font-size="6.0" text-anchor="middle" font-weight="normal" fill="#333" >****</text>
<text transform="translate(506.10,715.48) scale(1,1.2)" font-size="13.0" fill="#1a1a1a">G</text><text x="559.80" y="709.66" font-size="6.0" text-anchor="start" font-weight="normal" fill="#1a1a1a" >Risk</text><rect x="575.10" y="703.20" width="8.1" height="8.6" fill="#4a7dc4" stroke="#444" stroke-width="0.4"/><text x="585.40" y="709.23" font-size="4.8" text-anchor="start" font-weight="normal" fill="#1a1a1a" >Low_Risk</text><rect x="609.50" y="703.20" width="8.1" height="8.6" fill="#e0302a" stroke="#444" stroke-width="0.4"/><text x="620.40" y="709.23" font-size="4.8" text-anchor="start" font-weight="normal" fill="#1a1a1a" >High_Risk</text><line x1="542.30" y1="720.50" x2="542.30" y2="829.80" stroke="#333" stroke-width="0.7" /><line x1="542.30" y1="829.80" x2="660.50" y2="829.80" stroke="#333" stroke-width="0.7" /><line x1="540.30" y1="723.90" x2="542.30" y2="723.90" stroke="#333" stroke-width="0.6" /><text x="539.40" y="726.06" font-size="6.0" text-anchor="end" font-weight="normal" fill="#1a1a1a" >1.5</text><line x1="540.30" y1="749.40" x2="542.30" y2="749.40" stroke="#333" stroke-width="0.6" /><text x="539.40" y="751.56" font-size="6.0" text-anchor="end" font-weight="normal" fill="#1a1a1a" >1.0</text><line x1="540.30" y1="774.90" x2="542.30" y2="774.90" stroke="#333" stroke-width="0.6" /><text x="539.40" y="777.06" font-size="6.0" text-anchor="end" font-weight="normal" fill="#1a1a1a" >0.5</text><line x1="540.30" y1="800.40" x2="542.30" y2="800.40" stroke="#333" stroke-width="0.6" /><text x="539.40" y="802.56" font-size="6.0" text-anchor="end" font-weight="normal" fill="#1a1a1a" >0.0</text><line x1="540.30" y1="825.90" x2="542.30" y2="825.90" stroke="#333" stroke-width="0.6" /><text x="539.40" y="828.06" font-size="6.0" text-anchor="end" font-weight="normal" fill="#1a1a1a" >-0.5</text><line x1="574.50" y1="829.80" x2="574.50" y2="831.80" stroke="#333" stroke-width="0.6" /><text x="574.50" y="837.76" font-size="6.0" text-anchor="middle" font-weight="normal" fill="#1a1a1a" >Low_Risk</text><line x1="628.60" y1="829.80" x2="628.60" y2="831.80" stroke="#333" stroke-width="0.6" /><text x="628.60" y="837.76" font-size="6.0" text-anchor="middle" font-weight="normal" fill="#1a1a1a" >High_Risk</text><text x="601.20" y="844.76" font-size="6.0" text-anchor="middle" font-weight="normal" fill="#1a1a1a" >Risk</text><text transform="translate(528.26,778.80) rotate(-90)" font-size="6.0" text-anchor="middle" font-weight="normal" fill="#1a1a1a" >MSI</text>
<path d="M574.60,728.10 C574.77,728.77 574.93,730.77 575.60,732.10 C576.27,733.43 576.92,734.75 578.60,736.10 C580.28,737.45 583.17,738.85 585.70,740.20 C588.23,741.55 591.40,743.02 593.80,744.20 C596.20,745.38 598.80,746.45 600.10,747.30 C601.40,748.15 601.47,748.63 601.60,749.30 C601.73,749.97 602.03,750.47 600.90,751.30 C599.77,752.13 597.17,753.12 594.80,754.30 C592.43,755.48 589.13,757.05 586.70,758.40 C584.27,759.75 581.80,761.07 580.20,762.40 C578.60,763.73 577.90,764.72 577.10,766.40 C576.30,768.08 575.68,769.80 575.40,772.50 C575.12,775.20 575.12,779.57 575.40,782.60 C575.68,785.63 576.07,788.85 577.10,790.70 C578.13,792.55 580.50,792.87 581.60,793.70 C582.70,794.53 583.18,794.85 583.70,795.70 C584.22,796.55 584.70,797.62 584.70,798.80 C584.70,799.98 584.45,801.47 583.70,802.80 C582.95,804.13 581.30,805.45 580.20,806.80 C579.10,808.15 577.87,809.55 577.10,810.90 C576.33,812.25 576.02,813.30 575.60,814.90 C575.18,816.50 574.93,820.50 574.60,820.50 C574.27,820.50 574.02,816.50 573.60,814.90 C573.18,813.30 572.87,812.25 572.10,810.90 C571.33,809.55 570.10,808.15 569.00,806.80 C567.90,805.45 566.25,804.13 565.50,802.80 C564.75,801.47 564.50,799.98 564.50,798.80 C564.50,797.62 564.98,796.55 565.50,795.70 C566.02,794.85 566.50,794.53 567.60,793.70 C568.70,792.87 571.07,792.55 572.10,790.70 C573.13,788.85 573.52,785.63 573.80,782.60 C574.08,779.57 574.08,775.20 573.80,772.50 C573.52,769.80 572.90,768.08 572.10,766.40 C571.30,764.72 570.60,763.73 569.00,762.40 C567.40,761.07 564.93,759.75 562.50,758.40 C560.07,757.05 556.77,755.48 554.40,754.30 C552.03,753.12 549.43,752.13 548.30,751.30 C547.17,750.47 547.47,749.97 547.60,749.30 C547.73,748.63 547.80,748.15 549.10,747.30 C550.40,746.45 553.00,745.38 555.40,744.20 C557.80,743.02 560.97,741.55 563.50,740.20 C566.03,738.85 568.92,737.45 570.60,736.10 C572.28,734.75 572.93,733.43 573.60,732.10 C574.27,730.77 574.43,728.77 574.60,728.10 Z" fill="#4a7dc4" stroke="#222" stroke-width="0.7"/><line x1="574.60" y1="796.70" x2="574.60" y2="800.30" stroke="#222" stroke-width="0.6" /><rect x="569.20" y="749.30" width="11.20" height="47.40" fill="#fff" stroke="#333" stroke-width="0.5"/><line x1="569.20" y1="749.30" x2="580.40" y2="749.30" stroke="#333" stroke-width="0.8" />
<path d="M628.60,729.70 C628.82,730.25 629.00,731.73 629.90,733.00 C630.80,734.27 632.42,735.87 634.00,737.30 C635.58,738.73 637.78,740.17 639.40,741.60 C641.02,743.03 642.68,744.65 643.70,745.90 C644.72,747.15 645.42,748.02 645.50,749.10 C645.58,750.18 645.22,751.13 644.20,752.40 C643.18,753.67 641.10,755.27 639.40,756.70 C637.70,758.13 635.47,759.57 634.00,761.00 C632.53,762.43 631.42,763.50 630.60,765.30 C629.78,767.10 629.35,768.92 629.10,771.80 C628.85,774.68 628.77,780.08 629.10,782.60 C629.43,785.12 630.10,785.65 631.10,786.90 C632.10,788.15 633.53,789.02 635.10,790.10 C636.67,791.18 638.98,792.13 640.50,793.40 C642.02,794.67 643.48,796.45 644.20,797.70 C644.92,798.95 644.88,799.82 644.80,800.90 C644.72,801.98 644.60,802.93 643.70,804.20 C642.80,805.47 640.93,807.07 639.40,808.50 C637.87,809.93 635.93,811.37 634.50,812.80 C633.07,814.23 631.70,815.67 630.80,817.10 C629.90,818.53 629.47,820.42 629.10,821.40 C628.73,822.38 628.77,823.00 628.60,823.00 C628.43,823.00 628.47,822.38 628.10,821.40 C627.73,820.42 627.30,818.53 626.40,817.10 C625.50,815.67 624.13,814.23 622.70,812.80 C621.27,811.37 619.33,809.93 617.80,808.50 C616.27,807.07 614.40,805.47 613.50,804.20 C612.60,802.93 612.48,801.98 612.40,800.90 C612.32,799.82 612.28,798.95 613.00,797.70 C613.72,796.45 615.18,794.67 616.70,793.40 C618.22,792.13 620.53,791.18 622.10,790.10 C623.67,789.02 625.10,788.15 626.10,786.90 C627.10,785.65 627.77,785.12 628.10,782.60 C628.43,780.08 628.35,774.68 628.10,771.80 C627.85,768.92 627.42,767.10 626.60,765.30 C625.78,763.50 624.67,762.43 623.20,761.00 C621.73,759.57 619.50,758.13 617.80,756.70 C616.10,755.27 614.02,753.67 613.00,752.40 C611.98,751.13 611.62,750.18 611.70,749.10 C611.78,748.02 612.48,747.15 613.50,745.90 C614.52,744.65 616.18,743.03 617.80,741.60 C619.42,740.17 621.62,738.73 623.20,737.30 C624.78,735.87 626.40,734.27 627.30,733.00 C628.20,731.73 628.38,730.25 628.60,729.70 Z" fill="#e0302a" stroke="#222" stroke-width="0.7"/><rect x="623.20" y="749.70" width="10.80" height="50.70" fill="#fff" stroke="#333" stroke-width="0.5"/><line x1="623.20" y1="753.50" x2="634.00" y2="753.50" stroke="#333" stroke-width="0.8" />
<path d="M574.50,748.70 V746.90 H628.60 V748.70" fill="none" stroke="#333" stroke-width="0.7"/><text x="601.60" y="746.36" font-size="6.0" text-anchor="middle" font-weight="normal" fill="#333" >****</text>
<text transform="translate(418.90,874.08) scale(1,1.14)" font-size="13.0" fill="#1a1a1a">H</text><text x="474.90" y="880.46" font-size="6.0" text-anchor="start" font-weight="normal" fill="#1a1a1a" >Risk</text><rect x="490.20" y="874.00" width="8.1" height="8.6" fill="#4a7dc4" stroke="#444" stroke-width="0.4"/><text x="500.50" y="880.03" font-size="4.8" text-anchor="start" font-weight="normal" fill="#1a1a1a" >Low_Risk</text><rect x="524.60" y="874.00" width="8.1" height="8.6" fill="#e0302a" stroke="#444" stroke-width="0.4"/><text x="535.50" y="880.03" font-size="4.8" text-anchor="start" font-weight="normal" fill="#1a1a1a" >High_Risk</text><line x1="457.30" y1="891.60" x2="457.30" y2="1000.20" stroke="#333" stroke-width="0.7" /><line x1="457.30" y1="1000.20" x2="575.40" y2="1000.20" stroke="#333" stroke-width="0.7" /><line x1="455.30" y1="899.00" x2="457.30" y2="899.00" stroke="#333" stroke-width="0.6" /><text x="454.10" y="901.16" font-size="6.0" text-anchor="end" font-weight="normal" fill="#1a1a1a" >0.4</text><line x1="455.30" y1="925.80" x2="457.30" y2="925.80" stroke="#333" stroke-width="0.6" /><text x="454.10" y="927.96" font-size="6.0" text-anchor="end" font-weight="normal" fill="#1a1a1a" >0.2</text><line x1="455.30" y1="952.60" x2="457.30" y2="952.60" stroke="#333" stroke-width="0.6" /><text x="454.10" y="954.76" font-size="6.0" text-anchor="end" font-weight="normal" fill="#1a1a1a" >0.0</text><line x1="455.30" y1="979.40" x2="457.30" y2="979.40" stroke="#333" stroke-width="0.6" /><text x="454.10" y="981.56" font-size="6.0" text-anchor="end" font-weight="normal" fill="#1a1a1a" >-0.2</text><line x1="489.50" y1="1000.20" x2="489.50" y2="1002.20" stroke="#333" stroke-width="0.6" /><text x="489.50" y="1008.36" font-size="6.0" text-anchor="middle" font-weight="normal" fill="#1a1a1a" >Low_Risk</text><line x1="543.60" y1="1000.20" x2="543.60" y2="1002.20" stroke="#333" stroke-width="0.6" /><text x="543.60" y="1008.36" font-size="6.0" text-anchor="middle" font-weight="normal" fill="#1a1a1a" >High_Risk</text><text x="516.50" y="1015.86" font-size="6.0" text-anchor="middle" font-weight="normal" fill="#1a1a1a" >Risk</text><text transform="translate(442.36,945.70) rotate(-90)" font-size="6.0" text-anchor="middle" font-weight="normal" fill="#1a1a1a" >TIDE</text>
<path d="M489.60,921.00 C489.65,921.08 489.57,920.68 489.87,921.50 C490.17,922.32 490.83,924.43 491.37,925.90 C491.91,927.37 492.51,928.83 493.10,930.30 C493.69,931.77 494.30,933.52 494.90,934.70 C495.50,935.88 495.67,936.52 496.70,937.40 C497.73,938.28 499.63,939.12 501.10,940.00 C502.57,940.88 504.18,941.82 505.50,942.70 C506.82,943.58 508.05,944.42 509.00,945.30 C509.95,946.18 510.60,946.97 511.20,948.00 C511.80,949.03 512.08,950.18 512.60,951.50 C513.12,952.82 513.68,954.42 514.30,955.90 C514.92,957.38 516.15,959.22 516.30,960.40 C516.45,961.58 516.12,961.98 515.20,963.00 C514.28,964.02 512.42,965.32 510.80,966.50 C509.18,967.68 507.27,968.92 505.50,970.10 C503.73,971.28 501.82,972.43 500.20,973.60 C498.58,974.77 497.05,975.92 495.80,977.10 C494.55,978.28 493.56,979.37 492.70,980.70 C491.84,982.03 491.13,983.63 490.66,985.10 C490.19,986.57 490.05,988.65 489.87,989.50 C489.69,990.35 489.69,990.20 489.60,990.20 C489.51,990.20 489.51,990.35 489.33,989.50 C489.15,988.65 489.01,986.57 488.54,985.10 C488.07,983.63 487.36,982.03 486.50,980.70 C485.64,979.37 484.65,978.28 483.40,977.10 C482.15,975.92 480.62,974.77 479.00,973.60 C477.38,972.43 475.47,971.28 473.70,970.10 C471.93,968.92 470.02,967.68 468.40,966.50 C466.78,965.32 464.92,964.02 464.00,963.00 C463.08,961.98 462.75,961.58 462.90,960.40 C463.05,959.22 464.28,957.38 464.90,955.90 C465.52,954.42 466.08,952.82 466.60,951.50 C467.12,950.18 467.40,949.03 468.00,948.00 C468.60,946.97 469.25,946.18 470.20,945.30 C471.15,944.42 472.38,943.58 473.70,942.70 C475.02,941.82 476.63,940.88 478.10,940.00 C479.57,939.12 481.47,938.28 482.50,937.40 C483.53,936.52 483.70,935.88 484.30,934.70 C484.90,933.52 485.51,931.77 486.10,930.30 C486.69,928.83 487.29,927.37 487.83,925.90 C488.37,924.43 489.04,922.32 489.33,921.50 C489.63,920.68 489.56,921.08 489.60,921.00 Z" fill="#4a7dc4" stroke="#222" stroke-width="0.7"/><line x1="489.60" y1="917.10" x2="489.60" y2="995.70" stroke="#222" stroke-width="0.6" /><rect x="484.00" y="948.40" width="11.20" height="15.70" fill="#fff" stroke="#333" stroke-width="0.5"/><line x1="484.00" y1="956.80" x2="495.20" y2="956.80" stroke="#333" stroke-width="0.8" />
<path d="M543.50,914.80 C543.77,915.35 544.38,916.83 545.10,918.10 C545.82,919.37 546.90,920.97 547.80,922.40 C548.70,923.83 549.42,925.27 550.50,926.70 C551.58,928.13 552.87,929.57 554.30,931.00 C555.73,932.43 557.48,933.87 559.10,935.30 C560.72,936.73 562.55,938.15 564.00,939.60 C565.45,941.05 566.72,942.55 567.80,944.00 C568.88,945.45 569.97,946.97 570.50,948.30 C571.03,949.63 571.18,950.93 571.00,952.00 C570.82,953.07 570.57,953.52 569.40,954.70 C568.23,955.88 566.17,957.65 564.00,959.10 C561.83,960.55 558.73,961.97 556.40,963.40 C554.07,964.83 551.52,966.27 550.00,967.70 C548.48,969.13 547.98,970.57 547.30,972.00 C546.62,973.43 546.27,974.87 545.90,976.30 C545.53,977.73 545.42,979.15 545.10,980.60 C544.78,982.05 544.27,983.92 544.00,985.00 C543.73,986.08 543.67,987.10 543.50,987.10 C543.33,987.10 543.27,986.08 543.00,985.00 C542.73,983.92 542.22,982.05 541.90,980.60 C541.58,979.15 541.47,977.73 541.10,976.30 C540.73,974.87 540.38,973.43 539.70,972.00 C539.02,970.57 538.52,969.13 537.00,967.70 C535.48,966.27 532.93,964.83 530.60,963.40 C528.27,961.97 525.17,960.55 523.00,959.10 C520.83,957.65 518.77,955.88 517.60,954.70 C516.43,953.52 516.18,953.07 516.00,952.00 C515.82,950.93 515.97,949.63 516.50,948.30 C517.03,946.97 518.12,945.45 519.20,944.00 C520.28,942.55 521.55,941.05 523.00,939.60 C524.45,938.15 526.28,936.73 527.90,935.30 C529.52,933.87 531.27,932.43 532.70,931.00 C534.13,929.57 535.42,928.13 536.50,926.70 C537.58,925.27 538.30,923.83 539.20,922.40 C540.10,920.97 541.18,919.37 541.90,918.10 C542.62,916.83 543.23,915.35 543.50,914.80 Z" fill="#e0302a" stroke="#222" stroke-width="0.7"/><line x1="543.50" y1="896.50" x2="543.50" y2="991.40" stroke="#222" stroke-width="0.6" /><rect x="538.00" y="940.70" width="11.10" height="15.10" fill="#fff" stroke="#333" stroke-width="0.5"/><line x1="538.00" y1="948.30" x2="549.10" y2="948.30" stroke="#333" stroke-width="0.8" />
<circle cx="543.6" cy="903.5" r="1.0" fill="#222"/><circle cx="543.6" cy="906.5" r="1.0" fill="#222"/><circle cx="543.6" cy="916.5" r="1.0" fill="#222"/><circle cx="543.6" cy="981.2" r="1.0" fill="#222"/>
<path d="M489.50,904.80 V903.00 H543.60 V904.80" fill="none" stroke="#333" stroke-width="0.7"/><text x="516.70" y="902.16" font-size="6.0" text-anchor="middle" font-weight="normal" fill="#333" >****</text>
</svg></body></html>
